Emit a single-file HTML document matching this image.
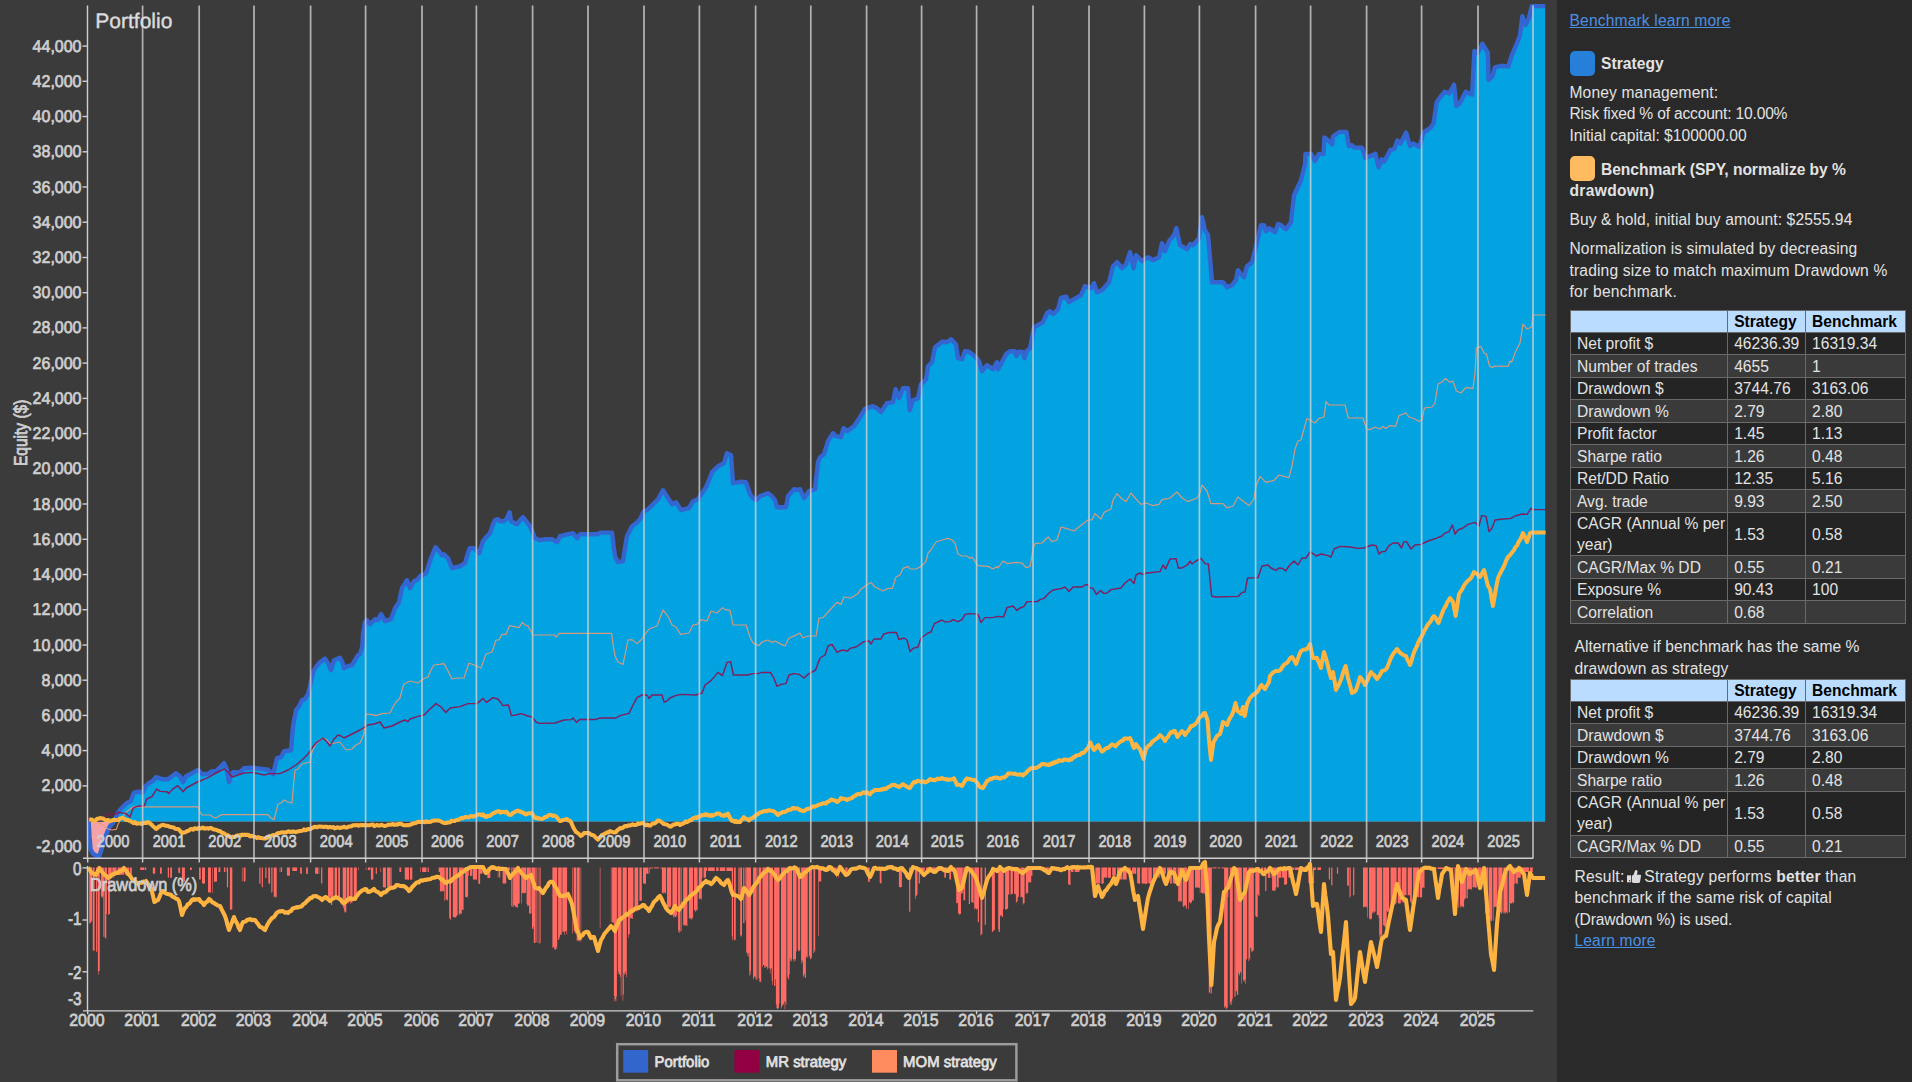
<!DOCTYPE html>
<html><head><meta charset="utf-8"><title>Portfolio</title><style>
html,body{margin:0;padding:0;background:#3b3b3b;}
body{width:1912px;height:1082px;overflow:hidden;position:relative;font-family:"Liberation Sans",sans-serif;}
#p{position:absolute;left:1557px;top:0;width:355px;height:1082px;background:#2a2a2a;color:#e2e2e2;font-size:15.6px;}
#p .l{position:absolute;white-space:nowrap;line-height:20px;height:20px;}
#p a{color:#4a90e2;text-decoration:underline;}
#p b{font-weight:bold;}
.sq{position:absolute;width:25.5px;height:25px;border-radius:5px;}
table.t{position:absolute;left:13px;border-collapse:collapse;table-layout:fixed;width:335.5px;font-size:15.6px;color:#e2e2e2;}
table.t td,table.t th{border:1px solid #6a6a6a;padding:0 0 0 6px;height:21.47px;line-height:21px;text-align:left;white-space:nowrap;overflow:hidden;}
table.t th{background:#b9dcff;color:#000;font-weight:bold;height:20.4px;}
table.t tr.o td{background:#242424;}
table.t tr.e td{background:#3a3a3a;}
table.t td.two{height:40px;line-height:21.35px;}
</style></head><body>
<svg width="1557" height="1082" viewBox="0 0 1557 1082" style="position:absolute;left:0;top:0" font-family="Liberation Sans, sans-serif" text-rendering="geometricPrecision">
<rect x="0" y="0" width="1557" height="1082" fill="#3b3b3b"/>
<defs><clipPath id="cpos"><rect x="0" y="0" width="1557" height="821.8"/></clipPath><clipPath id="cneg"><rect x="0" y="821.8" width="1557" height="60"/></clipPath>
<clipPath id="cmain"><rect x="87.0" y="0" width="1458.7" height="858.3"/></clipPath></defs>
<g clip-path="url(#cmain)">
<path d="M88.6 821.8 L88.6 821.2 L89.5 836.2 L90.6 849.2 L93.0 853.7 L96.0 855.7 L99.0 856.7 L101.0 851.2 L103.0 844.2 L105.0 837.7 L107.5 831.2 L110.0 826.2 L113.5 822.2 L116.0 817.2 L118.0 812.7 L120.5 809.2 L123.5 806.2 L126.5 803.2 L130.5 801.2 L132.5 796.2 L134.0 792.7 L138.5 791.7 L143.0 792.2 L145.5 786.2 L149.0 783.2 L153.0 780.7 L156.0 777.2 L162.0 779.2 L168.0 779.2 L172.0 776.2 L176.0 773.2 L180.0 776.2 L183.0 782.2 L186.0 776.2 L192.0 773.2 L198.0 769.8 L202.0 774.2 L208.0 773.8 L212.0 771.2 L216.0 771.2 L220.0 767.2 L224.0 763.2 L227.0 770.2 L229.0 782.2 L231.0 774.2 L233.0 772.2 L240.0 772.2 L244.0 768.2 L252.0 767.8 L260.0 768.6 L268.0 769.8 L273.0 774.2 L275.0 766.2 L277.0 758.2 L281.0 757.2 L284.0 751.2 L291.0 750.2 L293.0 726.2 L296.0 710.2 L299.0 706.2 L302.0 700.2 L305.0 699.2 L308.0 694.2 L310.0 686.2 L313.0 672.2 L316.0 667.2 L320.0 662.2 L325.0 658.6 L328.0 663.2 L331.0 670.2 L334.0 660.2 L340.0 657.8 L342.4 662.2 L344.0 668.2 L348.0 666.2 L352.0 665.2 L355.0 660.2 L358.0 655.2 L360.0 654.2 L362.4 646.2 L363.0 634.2 L365.0 622.2 L367.0 620.2 L370.0 624.2 L375.0 619.2 L378.0 620.2 L381.0 614.2 L385.0 621.2 L391.0 619.2 L395.0 608.2 L399.0 602.2 L402.0 588.2 L407.0 580.2 L410.0 588.2 L414.0 581.2 L417.0 580.2 L420.0 576.2 L426.0 573.2 L431.0 558.2 L435.6 547.2 L439.0 551.2 L442.0 555.2 L444.0 554.2 L448.0 558.2 L452.0 568.2 L460.0 566.2 L465.0 563.2 L467.6 554.2 L469.6 548.2 L474.0 548.2 L479.0 553.2 L483.0 541.2 L487.0 536.2 L490.0 533.2 L493.0 524.2 L495.0 520.2 L498.0 519.2 L500.0 521.2 L504.0 521.2 L507.0 518.2 L509.6 512.2 L511.0 521.2 L517.0 524.2 L520.0 520.2 L523.0 517.2 L530.0 526.2 L535.0 538.2 L540.0 540.2 L546.0 539.2 L552.0 539.2 L557.0 542.2 L560.0 536.2 L566.0 534.6 L573.0 533.2 L577.0 538.2 L580.0 534.2 L598.0 534.2 L600.0 532.6 L612.0 532.6 L613.6 546.2 L615.0 556.2 L618.0 562.2 L623.0 561.2 L625.0 548.2 L627.0 536.2 L632.0 526.2 L636.0 523.2 L640.0 519.2 L644.0 511.2 L648.0 509.2 L652.0 505.2 L658.0 499.2 L663.0 490.2 L668.0 498.2 L672.0 504.2 L676.0 502.2 L681.0 510.2 L689.0 508.2 L693.0 501.2 L698.0 499.2 L702.0 493.2 L706.0 487.2 L709.0 480.2 L712.0 472.2 L718.0 466.2 L724.0 463.2 L727.0 453.2 L731.0 455.2 L733.0 483.2 L740.0 481.8 L746.0 482.2 L750.0 494.2 L753.0 498.2 L756.0 500.2 L760.0 496.2 L768.0 493.2 L772.0 496.2 L775.0 500.2 L777.0 507.2 L786.0 507.2 L788.0 496.2 L794.0 489.2 L797.0 490.2 L800.0 489.2 L804.0 498.2 L809.0 491.2 L815.0 489.2 L818.0 462.2 L820.0 457.2 L824.0 454.2 L828.0 441.2 L833.0 433.2 L836.0 436.2 L841.0 437.2 L843.6 428.2 L847.0 431.2 L854.0 426.2 L860.0 417.2 L865.0 408.8 L873.0 406.2 L877.0 408.2 L881.0 412.2 L887.0 403.2 L893.0 402.2 L895.6 389.2 L899.0 398.2 L903.0 388.2 L908.0 388.2 L909.6 410.2 L913.0 400.2 L918.0 398.2 L921.0 384.2 L926.0 379.2 L928.0 366.2 L932.0 362.2 L935.0 347.2 L942.0 341.8 L947.0 342.2 L951.0 339.2 L956.0 344.6 L958.0 358.2 L962.0 359.2 L965.0 351.2 L969.0 351.8 L975.0 356.2 L979.0 361.2 L982.0 371.2 L987.0 365.2 L993.0 369.2 L997.0 362.2 L998.0 369.2 L1002.0 362.2 L1006.0 354.2 L1010.0 351.2 L1015.0 351.2 L1016.4 356.2 L1019.0 351.8 L1023.0 352.2 L1024.4 358.2 L1027.0 350.6 L1030.0 348.2 L1032.0 338.2 L1034.0 327.2 L1038.0 325.2 L1043.0 322.2 L1047.0 313.2 L1050.0 311.2 L1053.0 314.2 L1058.0 309.2 L1061.0 297.8 L1066.0 296.6 L1069.0 302.2 L1076.0 298.2 L1081.0 295.2 L1085.0 286.2 L1091.0 288.2 L1094.0 283.2 L1097.0 292.2 L1102.0 290.2 L1109.0 282.2 L1113.0 266.2 L1117.0 262.2 L1122.0 268.2 L1126.0 264.2 L1130.0 252.2 L1133.6 268.2 L1136.0 255.2 L1142.0 261.2 L1148.0 257.2 L1153.0 260.2 L1159.0 257.2 L1162.0 243.2 L1165.0 251.2 L1169.0 241.2 L1174.0 235.2 L1176.4 228.2 L1180.0 245.2 L1187.0 249.2 L1190.0 244.2 L1193.0 245.2 L1199.0 238.2 L1202.0 217.2 L1205.0 230.2 L1208.0 235.2 L1210.0 258.2 L1212.0 282.2 L1223.0 282.2 L1227.0 287.2 L1232.0 285.2 L1236.0 280.2 L1238.0 270.2 L1241.0 274.2 L1244.0 277.2 L1247.0 266.2 L1252.0 262.2 L1256.0 246.2 L1261.0 225.2 L1264.0 225.2 L1266.0 231.2 L1269.0 228.2 L1275.0 232.2 L1278.0 224.2 L1281.0 225.2 L1286.0 229.2 L1291.0 222.2 L1294.0 195.2 L1301.0 180.2 L1305.0 164.2 L1305.5 153.9 L1311.0 153.9 L1314.9 160.9 L1318.9 153.9 L1323.6 153.9 L1324.4 137.4 L1328.3 140.5 L1332.2 144.4 L1333.0 136.6 L1339.3 131.9 L1346.4 131.9 L1348.7 146.0 L1351.9 145.2 L1354.2 147.6 L1362.1 147.6 L1365.2 157.8 L1369.9 156.2 L1375.4 153.9 L1378.6 167.2 L1381.7 159.4 L1384.1 161.7 L1390.4 149.9 L1394.3 149.1 L1397.4 140.5 L1400.6 143.6 L1406.1 132.6 L1410.0 146.0 L1413.2 143.6 L1419.4 146.8 L1423.4 132.6 L1430.4 127.9 L1433.6 123.2 L1436.7 102.0 L1440.7 96.5 L1444.6 91.8 L1449.3 93.4 L1454.0 84.7 L1456.4 105.9 L1459.5 103.6 L1465.8 91.8 L1472.1 94.9 L1474.4 50.9 L1477.6 53.3 L1482.3 43.8 L1487.8 52.5 L1488.6 80.0 L1492.5 76.1 L1494.9 67.4 L1501.2 65.8 L1508.2 66.6 L1511.4 56.4 L1517.7 41.5 L1520.0 35.2 L1522.4 16.3 L1525.5 25.0 L1528.7 18.7 L1531.8 6.1 L1545.2 6.1 L1545.2 6.1 L1545.2 821.8 Z" fill="#03a3e1" clip-path="url(#cpos)"/>
<path d="M88.6 821.8 L88.6 821.2 L89.5 836.2 L90.6 849.2 L93.0 853.7 L96.0 855.7 L99.0 856.7 L101.0 851.2 L103.0 844.2 L105.0 837.7 L107.5 831.2 L110.0 826.2 L113.5 822.2 L116.0 817.2 L118.0 812.7 L120.5 809.2 L123.5 806.2 L126.5 803.2 L130.5 801.2 L132.5 796.2 L134.0 792.7 L138.5 791.7 L143.0 792.2 L145.5 786.2 L149.0 783.2 L153.0 780.7 L156.0 777.2 L162.0 779.2 L168.0 779.2 L172.0 776.2 L176.0 773.2 L180.0 776.2 L183.0 782.2 L186.0 776.2 L192.0 773.2 L198.0 769.8 L202.0 774.2 L208.0 773.8 L212.0 771.2 L216.0 771.2 L220.0 767.2 L224.0 763.2 L227.0 770.2 L229.0 782.2 L231.0 774.2 L233.0 772.2 L240.0 772.2 L244.0 768.2 L252.0 767.8 L260.0 768.6 L268.0 769.8 L273.0 774.2 L275.0 766.2 L277.0 758.2 L281.0 757.2 L284.0 751.2 L291.0 750.2 L293.0 726.2 L296.0 710.2 L299.0 706.2 L302.0 700.2 L305.0 699.2 L308.0 694.2 L310.0 686.2 L313.0 672.2 L316.0 667.2 L320.0 662.2 L325.0 658.6 L328.0 663.2 L331.0 670.2 L334.0 660.2 L340.0 657.8 L342.4 662.2 L344.0 668.2 L348.0 666.2 L352.0 665.2 L355.0 660.2 L358.0 655.2 L360.0 654.2 L362.4 646.2 L363.0 634.2 L365.0 622.2 L367.0 620.2 L370.0 624.2 L375.0 619.2 L378.0 620.2 L381.0 614.2 L385.0 621.2 L391.0 619.2 L395.0 608.2 L399.0 602.2 L402.0 588.2 L407.0 580.2 L410.0 588.2 L414.0 581.2 L417.0 580.2 L420.0 576.2 L426.0 573.2 L431.0 558.2 L435.6 547.2 L439.0 551.2 L442.0 555.2 L444.0 554.2 L448.0 558.2 L452.0 568.2 L460.0 566.2 L465.0 563.2 L467.6 554.2 L469.6 548.2 L474.0 548.2 L479.0 553.2 L483.0 541.2 L487.0 536.2 L490.0 533.2 L493.0 524.2 L495.0 520.2 L498.0 519.2 L500.0 521.2 L504.0 521.2 L507.0 518.2 L509.6 512.2 L511.0 521.2 L517.0 524.2 L520.0 520.2 L523.0 517.2 L530.0 526.2 L535.0 538.2 L540.0 540.2 L546.0 539.2 L552.0 539.2 L557.0 542.2 L560.0 536.2 L566.0 534.6 L573.0 533.2 L577.0 538.2 L580.0 534.2 L598.0 534.2 L600.0 532.6 L612.0 532.6 L613.6 546.2 L615.0 556.2 L618.0 562.2 L623.0 561.2 L625.0 548.2 L627.0 536.2 L632.0 526.2 L636.0 523.2 L640.0 519.2 L644.0 511.2 L648.0 509.2 L652.0 505.2 L658.0 499.2 L663.0 490.2 L668.0 498.2 L672.0 504.2 L676.0 502.2 L681.0 510.2 L689.0 508.2 L693.0 501.2 L698.0 499.2 L702.0 493.2 L706.0 487.2 L709.0 480.2 L712.0 472.2 L718.0 466.2 L724.0 463.2 L727.0 453.2 L731.0 455.2 L733.0 483.2 L740.0 481.8 L746.0 482.2 L750.0 494.2 L753.0 498.2 L756.0 500.2 L760.0 496.2 L768.0 493.2 L772.0 496.2 L775.0 500.2 L777.0 507.2 L786.0 507.2 L788.0 496.2 L794.0 489.2 L797.0 490.2 L800.0 489.2 L804.0 498.2 L809.0 491.2 L815.0 489.2 L818.0 462.2 L820.0 457.2 L824.0 454.2 L828.0 441.2 L833.0 433.2 L836.0 436.2 L841.0 437.2 L843.6 428.2 L847.0 431.2 L854.0 426.2 L860.0 417.2 L865.0 408.8 L873.0 406.2 L877.0 408.2 L881.0 412.2 L887.0 403.2 L893.0 402.2 L895.6 389.2 L899.0 398.2 L903.0 388.2 L908.0 388.2 L909.6 410.2 L913.0 400.2 L918.0 398.2 L921.0 384.2 L926.0 379.2 L928.0 366.2 L932.0 362.2 L935.0 347.2 L942.0 341.8 L947.0 342.2 L951.0 339.2 L956.0 344.6 L958.0 358.2 L962.0 359.2 L965.0 351.2 L969.0 351.8 L975.0 356.2 L979.0 361.2 L982.0 371.2 L987.0 365.2 L993.0 369.2 L997.0 362.2 L998.0 369.2 L1002.0 362.2 L1006.0 354.2 L1010.0 351.2 L1015.0 351.2 L1016.4 356.2 L1019.0 351.8 L1023.0 352.2 L1024.4 358.2 L1027.0 350.6 L1030.0 348.2 L1032.0 338.2 L1034.0 327.2 L1038.0 325.2 L1043.0 322.2 L1047.0 313.2 L1050.0 311.2 L1053.0 314.2 L1058.0 309.2 L1061.0 297.8 L1066.0 296.6 L1069.0 302.2 L1076.0 298.2 L1081.0 295.2 L1085.0 286.2 L1091.0 288.2 L1094.0 283.2 L1097.0 292.2 L1102.0 290.2 L1109.0 282.2 L1113.0 266.2 L1117.0 262.2 L1122.0 268.2 L1126.0 264.2 L1130.0 252.2 L1133.6 268.2 L1136.0 255.2 L1142.0 261.2 L1148.0 257.2 L1153.0 260.2 L1159.0 257.2 L1162.0 243.2 L1165.0 251.2 L1169.0 241.2 L1174.0 235.2 L1176.4 228.2 L1180.0 245.2 L1187.0 249.2 L1190.0 244.2 L1193.0 245.2 L1199.0 238.2 L1202.0 217.2 L1205.0 230.2 L1208.0 235.2 L1210.0 258.2 L1212.0 282.2 L1223.0 282.2 L1227.0 287.2 L1232.0 285.2 L1236.0 280.2 L1238.0 270.2 L1241.0 274.2 L1244.0 277.2 L1247.0 266.2 L1252.0 262.2 L1256.0 246.2 L1261.0 225.2 L1264.0 225.2 L1266.0 231.2 L1269.0 228.2 L1275.0 232.2 L1278.0 224.2 L1281.0 225.2 L1286.0 229.2 L1291.0 222.2 L1294.0 195.2 L1301.0 180.2 L1305.0 164.2 L1305.5 153.9 L1311.0 153.9 L1314.9 160.9 L1318.9 153.9 L1323.6 153.9 L1324.4 137.4 L1328.3 140.5 L1332.2 144.4 L1333.0 136.6 L1339.3 131.9 L1346.4 131.9 L1348.7 146.0 L1351.9 145.2 L1354.2 147.6 L1362.1 147.6 L1365.2 157.8 L1369.9 156.2 L1375.4 153.9 L1378.6 167.2 L1381.7 159.4 L1384.1 161.7 L1390.4 149.9 L1394.3 149.1 L1397.4 140.5 L1400.6 143.6 L1406.1 132.6 L1410.0 146.0 L1413.2 143.6 L1419.4 146.8 L1423.4 132.6 L1430.4 127.9 L1433.6 123.2 L1436.7 102.0 L1440.7 96.5 L1444.6 91.8 L1449.3 93.4 L1454.0 84.7 L1456.4 105.9 L1459.5 103.6 L1465.8 91.8 L1472.1 94.9 L1474.4 50.9 L1477.6 53.3 L1482.3 43.8 L1487.8 52.5 L1488.6 80.0 L1492.5 76.1 L1494.9 67.4 L1501.2 65.8 L1508.2 66.6 L1511.4 56.4 L1517.7 41.5 L1520.0 35.2 L1522.4 16.3 L1525.5 25.0 L1528.7 18.7 L1531.8 6.1 L1545.2 6.1 L1545.2 6.1 L1545.2 821.8 Z" fill="#f3a3a8" clip-path="url(#cneg)"/>
<path d="M88.6 821.2 L89.5 836.2 L90.6 849.2 L93.0 853.7 L96.0 855.7 L99.0 856.7 L101.0 851.2 L103.0 844.2 L105.0 837.7 L107.5 831.2 L110.0 826.2 L113.5 822.2 L116.0 817.2 L118.0 812.7 L120.5 809.2 L123.5 806.2 L126.5 803.2 L130.5 801.2 L132.5 796.2 L134.0 792.7 L138.5 791.7 L143.0 792.2 L145.5 786.2 L149.0 783.2 L153.0 780.7 L156.0 777.2 L162.0 779.2 L168.0 779.2 L172.0 776.2 L176.0 773.2 L180.0 776.2 L183.0 782.2 L186.0 776.2 L192.0 773.2 L198.0 769.8 L202.0 774.2 L208.0 773.8 L212.0 771.2 L216.0 771.2 L220.0 767.2 L224.0 763.2 L227.0 770.2 L229.0 782.2 L231.0 774.2 L233.0 772.2 L240.0 772.2 L244.0 768.2 L252.0 767.8 L260.0 768.6 L268.0 769.8 L273.0 774.2 L275.0 766.2 L277.0 758.2 L281.0 757.2 L284.0 751.2 L291.0 750.2 L293.0 726.2 L296.0 710.2 L299.0 706.2 L302.0 700.2 L305.0 699.2 L308.0 694.2 L310.0 686.2 L313.0 672.2 L316.0 667.2 L320.0 662.2 L325.0 658.6 L328.0 663.2 L331.0 670.2 L334.0 660.2 L340.0 657.8 L342.4 662.2 L344.0 668.2 L348.0 666.2 L352.0 665.2 L355.0 660.2 L358.0 655.2 L360.0 654.2 L362.4 646.2 L363.0 634.2 L365.0 622.2 L367.0 620.2 L370.0 624.2 L375.0 619.2 L378.0 620.2 L381.0 614.2 L385.0 621.2 L391.0 619.2 L395.0 608.2 L399.0 602.2 L402.0 588.2 L407.0 580.2 L410.0 588.2 L414.0 581.2 L417.0 580.2 L420.0 576.2 L426.0 573.2 L431.0 558.2 L435.6 547.2 L439.0 551.2 L442.0 555.2 L444.0 554.2 L448.0 558.2 L452.0 568.2 L460.0 566.2 L465.0 563.2 L467.6 554.2 L469.6 548.2 L474.0 548.2 L479.0 553.2 L483.0 541.2 L487.0 536.2 L490.0 533.2 L493.0 524.2 L495.0 520.2 L498.0 519.2 L500.0 521.2 L504.0 521.2 L507.0 518.2 L509.6 512.2 L511.0 521.2 L517.0 524.2 L520.0 520.2 L523.0 517.2 L530.0 526.2 L535.0 538.2 L540.0 540.2 L546.0 539.2 L552.0 539.2 L557.0 542.2 L560.0 536.2 L566.0 534.6 L573.0 533.2 L577.0 538.2 L580.0 534.2 L598.0 534.2 L600.0 532.6 L612.0 532.6 L613.6 546.2 L615.0 556.2 L618.0 562.2 L623.0 561.2 L625.0 548.2 L627.0 536.2 L632.0 526.2 L636.0 523.2 L640.0 519.2 L644.0 511.2 L648.0 509.2 L652.0 505.2 L658.0 499.2 L663.0 490.2 L668.0 498.2 L672.0 504.2 L676.0 502.2 L681.0 510.2 L689.0 508.2 L693.0 501.2 L698.0 499.2 L702.0 493.2 L706.0 487.2 L709.0 480.2 L712.0 472.2 L718.0 466.2 L724.0 463.2 L727.0 453.2 L731.0 455.2 L733.0 483.2 L740.0 481.8 L746.0 482.2 L750.0 494.2 L753.0 498.2 L756.0 500.2 L760.0 496.2 L768.0 493.2 L772.0 496.2 L775.0 500.2 L777.0 507.2 L786.0 507.2 L788.0 496.2 L794.0 489.2 L797.0 490.2 L800.0 489.2 L804.0 498.2 L809.0 491.2 L815.0 489.2 L818.0 462.2 L820.0 457.2 L824.0 454.2 L828.0 441.2 L833.0 433.2 L836.0 436.2 L841.0 437.2 L843.6 428.2 L847.0 431.2 L854.0 426.2 L860.0 417.2 L865.0 408.8 L873.0 406.2 L877.0 408.2 L881.0 412.2 L887.0 403.2 L893.0 402.2 L895.6 389.2 L899.0 398.2 L903.0 388.2 L908.0 388.2 L909.6 410.2 L913.0 400.2 L918.0 398.2 L921.0 384.2 L926.0 379.2 L928.0 366.2 L932.0 362.2 L935.0 347.2 L942.0 341.8 L947.0 342.2 L951.0 339.2 L956.0 344.6 L958.0 358.2 L962.0 359.2 L965.0 351.2 L969.0 351.8 L975.0 356.2 L979.0 361.2 L982.0 371.2 L987.0 365.2 L993.0 369.2 L997.0 362.2 L998.0 369.2 L1002.0 362.2 L1006.0 354.2 L1010.0 351.2 L1015.0 351.2 L1016.4 356.2 L1019.0 351.8 L1023.0 352.2 L1024.4 358.2 L1027.0 350.6 L1030.0 348.2 L1032.0 338.2 L1034.0 327.2 L1038.0 325.2 L1043.0 322.2 L1047.0 313.2 L1050.0 311.2 L1053.0 314.2 L1058.0 309.2 L1061.0 297.8 L1066.0 296.6 L1069.0 302.2 L1076.0 298.2 L1081.0 295.2 L1085.0 286.2 L1091.0 288.2 L1094.0 283.2 L1097.0 292.2 L1102.0 290.2 L1109.0 282.2 L1113.0 266.2 L1117.0 262.2 L1122.0 268.2 L1126.0 264.2 L1130.0 252.2 L1133.6 268.2 L1136.0 255.2 L1142.0 261.2 L1148.0 257.2 L1153.0 260.2 L1159.0 257.2 L1162.0 243.2 L1165.0 251.2 L1169.0 241.2 L1174.0 235.2 L1176.4 228.2 L1180.0 245.2 L1187.0 249.2 L1190.0 244.2 L1193.0 245.2 L1199.0 238.2 L1202.0 217.2 L1205.0 230.2 L1208.0 235.2 L1210.0 258.2 L1212.0 282.2 L1223.0 282.2 L1227.0 287.2 L1232.0 285.2 L1236.0 280.2 L1238.0 270.2 L1241.0 274.2 L1244.0 277.2 L1247.0 266.2 L1252.0 262.2 L1256.0 246.2 L1261.0 225.2 L1264.0 225.2 L1266.0 231.2 L1269.0 228.2 L1275.0 232.2 L1278.0 224.2 L1281.0 225.2 L1286.0 229.2 L1291.0 222.2 L1294.0 195.2 L1301.0 180.2 L1305.0 164.2 L1305.5 153.9 L1311.0 153.9 L1314.9 160.9 L1318.9 153.9 L1323.6 153.9 L1324.4 137.4 L1328.3 140.5 L1332.2 144.4 L1333.0 136.6 L1339.3 131.9 L1346.4 131.9 L1348.7 146.0 L1351.9 145.2 L1354.2 147.6 L1362.1 147.6 L1365.2 157.8 L1369.9 156.2 L1375.4 153.9 L1378.6 167.2 L1381.7 159.4 L1384.1 161.7 L1390.4 149.9 L1394.3 149.1 L1397.4 140.5 L1400.6 143.6 L1406.1 132.6 L1410.0 146.0 L1413.2 143.6 L1419.4 146.8 L1423.4 132.6 L1430.4 127.9 L1433.6 123.2 L1436.7 102.0 L1440.7 96.5 L1444.6 91.8 L1449.3 93.4 L1454.0 84.7 L1456.4 105.9 L1459.5 103.6 L1465.8 91.8 L1472.1 94.9 L1474.4 50.9 L1477.6 53.3 L1482.3 43.8 L1487.8 52.5 L1488.6 80.0 L1492.5 76.1 L1494.9 67.4 L1501.2 65.8 L1508.2 66.6 L1511.4 56.4 L1517.7 41.5 L1520.0 35.2 L1522.4 16.3 L1525.5 25.0 L1528.7 18.7 L1531.8 6.1 L1545.2 6.1" fill="none" stroke="#3366d0" stroke-width="4.4" stroke-linejoin="round" stroke-linecap="butt"/>
</g>
<path d="M88.5 819.0 L95.0 821.0 L103.0 825.0 L108.0 829.0 L111.8 830.0 L116.4 829.3 L117.9 824.7 L121.0 819.0 L124.7 813.4 L128.5 810.3 L133.1 806.9 L198.0 806.8 L200.0 812.0 L200.0 812.0 L202.0 815.0 L210.0 815.0 L213.0 817.0 L216.0 818.0 L219.0 816.0 L222.0 814.6 L268.0 814.6 L271.0 818.0 L274.0 819.6 L276.0 812.0 L278.0 804.0 L281.0 803.0 L284.0 800.0 L288.0 802.0 L292.0 803.0 L293.6 784.0 L295.0 770.0 L298.0 769.0 L302.0 764.0 L310.0 762.0 L312.0 752.0 L316.0 744.0 L320.0 740.0 L323.0 738.0 L327.0 740.0 L330.0 744.0 L335.0 743.0 L340.0 742.0 L343.0 746.0 L346.0 750.0 L352.0 749.0 L356.0 745.0 L360.0 743.0 L364.0 734.0 L365.0 724.0 L366.0 714.0 L371.0 714.4 L376.0 715.6 L382.0 713.6 L390.0 713.0 L393.0 707.0 L396.0 702.0 L400.0 698.0 L402.0 690.0 L404.0 684.0 L410.0 681.0 L418.0 683.0 L423.0 679.0 L428.0 677.0 L431.0 670.0 L434.0 665.0 L439.0 664.4 L444.0 663.6 L448.0 671.0 L452.0 679.0 L457.0 678.0 L464.0 678.0 L469.0 663.0 L474.0 665.0 L481.0 668.0 L486.0 654.0 L492.0 652.0 L496.0 640.0 L499.0 640.0 L502.0 634.4 L506.0 634.4 L509.6 625.6 L519.0 627.6 L522.4 622.4 L525.0 625.0 L528.0 626.0 L533.0 635.0 L554.0 635.0 L556.6 637.0 L559.0 633.4 L611.6 633.4 L613.0 644.0 L615.0 656.0 L618.0 662.0 L623.0 664.4 L625.6 652.0 L628.0 640.0 L632.0 639.6 L637.0 643.6 L641.0 640.0 L645.0 634.4 L649.0 629.0 L657.0 626.0 L660.0 618.0 L663.0 610.0 L666.0 613.6 L669.0 618.0 L672.0 625.0 L676.0 627.0 L680.6 634.4 L689.0 633.0 L693.0 625.0 L697.0 624.4 L701.0 619.6 L707.0 621.0 L711.0 611.0 L717.0 613.0 L722.6 607.6 L725.0 609.6 L730.0 610.4 L733.0 625.0 L746.0 625.0 L750.0 637.0 L753.0 643.0 L759.0 645.6 L762.0 642.0 L768.0 640.0 L772.0 642.4 L775.0 641.0 L780.0 643.6 L785.0 646.0 L789.0 638.0 L795.0 635.6 L800.0 633.0 L800.0 633.0 L803.0 638.0 L808.0 636.0 L816.0 636.0 L819.0 618.0 L823.0 617.6 L830.0 610.0 L837.0 602.4 L841.0 604.4 L844.0 597.0 L851.0 598.0 L858.0 593.6 L860.0 590.0 L866.0 585.6 L871.0 582.4 L875.0 587.0 L883.0 591.0 L888.0 588.4 L892.4 588.4 L896.0 577.0 L900.0 575.0 L903.0 568.4 L908.0 566.4 L910.0 569.0 L916.0 569.0 L921.0 566.4 L926.0 561.6 L928.0 553.0 L931.0 550.0 L936.0 542.0 L942.0 540.0 L948.0 538.4 L952.0 540.0 L955.0 543.0 L958.0 554.0 L962.0 556.0 L967.0 556.0 L970.0 558.4 L972.0 557.0 L978.0 565.6 L988.0 566.4 L993.0 569.0 L997.0 566.4 L998.0 568.0 L1003.0 561.0 L1007.0 563.6 L1016.0 562.4 L1022.0 563.0 L1026.0 567.6 L1030.0 566.4 L1031.6 558.0 L1033.0 549.0 L1035.0 543.6 L1042.0 543.0 L1048.0 537.0 L1052.0 541.6 L1057.0 540.0 L1061.0 527.0 L1066.0 528.4 L1074.0 531.0 L1080.0 526.0 L1088.0 520.0 L1092.0 520.0 L1095.0 513.6 L1101.0 519.0 L1104.0 512.4 L1111.0 509.0 L1113.0 500.0 L1117.0 493.6 L1122.0 499.0 L1126.0 501.6 L1131.0 493.0 L1136.0 499.0 L1141.0 504.4 L1146.0 503.0 L1153.0 505.6 L1159.0 504.4 L1162.0 499.6 L1169.0 498.4 L1170.0 498.0 L1177.0 492.0 L1182.0 498.0 L1188.0 501.6 L1197.0 498.0 L1200.0 493.0 L1202.0 485.0 L1207.0 491.0 L1211.0 503.6 L1223.0 503.6 L1227.0 508.0 L1233.0 506.0 L1238.0 497.0 L1241.0 499.6 L1249.0 505.6 L1254.0 499.0 L1256.0 486.0 L1260.0 476.4 L1266.0 482.4 L1274.0 480.4 L1279.0 475.0 L1289.0 477.6 L1292.0 466.0 L1295.0 449.0 L1298.0 441.0 L1301.0 440.0 L1304.0 429.0 L1307.0 418.4 L1315.0 423.0 L1319.0 418.4 L1324.0 417.0 L1326.0 401.6 L1329.0 405.0 L1345.0 405.0 L1348.4 418.0 L1363.0 418.0 L1366.4 429.0 L1370.0 429.6 L1375.0 427.0 L1380.0 429.0 L1383.0 426.4 L1385.6 428.4 L1390.0 425.6 L1395.6 426.4 L1399.0 415.6 L1406.0 413.0 L1409.0 417.0 L1415.0 419.0 L1419.0 421.6 L1422.0 419.6 L1424.4 408.0 L1432.0 407.0 L1435.0 403.0 L1438.0 384.0 L1442.0 382.0 L1445.6 378.4 L1449.6 382.4 L1453.0 381.0 L1456.4 391.0 L1461.0 393.0 L1466.0 387.6 L1473.0 388.4 L1475.0 373.0 L1476.4 348.0 L1481.0 346.4 L1484.0 353.0 L1486.4 354.0 L1489.6 366.0 L1492.0 367.6 L1495.0 366.0 L1508.0 366.4 L1510.0 361.0 L1511.6 362.4 L1515.0 353.0 L1520.0 343.0 L1523.0 324.0 L1527.0 329.0 L1531.6 327.0 L1533.0 315.0 L1545.6 315.0" fill="none" stroke="#f2976e" stroke-width="1.2" stroke-linejoin="round" opacity="0.88"/>
<path d="M88.5 819.0 L96.0 820.0 L104.0 819.5 L105.0 817.1 L106.5 814.1 L116.4 814.1 L117.9 812.2 L125.5 813.4 L130.0 817.1 L133.1 808.1 L137.6 806.2 L144.4 805.8 L146.7 799.0 L152.0 796.7 L156.6 789.1 L160.4 791.4 L167.2 791.8 L168.7 793.6 L171.7 789.9 L177.8 785.7 L183.1 791.8 L186.1 788.0 L198.3 781.5 L200.0 781.0 L208.0 777.6 L216.0 773.0 L224.0 769.0 L228.0 772.0 L232.0 777.0 L238.0 775.0 L244.0 773.0 L252.0 772.4 L260.0 774.0 L264.0 775.0 L270.0 773.6 L280.0 773.6 L288.0 770.0 L296.0 765.0 L302.0 760.0 L308.0 754.0 L312.0 748.0 L316.0 743.0 L323.0 738.0 L327.0 742.0 L330.0 746.0 L334.0 739.0 L338.0 735.0 L341.0 736.0 L344.0 738.0 L352.0 734.0 L360.0 730.0 L368.0 725.0 L374.0 724.0 L380.0 722.0 L384.0 728.0 L392.0 726.0 L400.0 722.0 L405.0 720.0 L408.0 721.6 L410.0 719.0 L418.0 716.4 L424.0 715.0 L430.0 709.0 L436.0 703.6 L441.0 707.0 L446.0 712.4 L450.0 708.0 L460.0 706.6 L468.0 703.6 L477.0 703.6 L483.0 698.4 L486.4 702.4 L493.0 697.6 L498.0 699.0 L503.0 705.6 L508.4 705.0 L511.4 715.6 L516.0 715.0 L521.0 713.6 L528.0 716.0 L532.0 717.0 L536.0 722.0 L539.0 723.4 L555.0 723.0 L564.0 720.0 L571.0 719.6 L573.0 718.0 L576.4 722.4 L580.0 719.4 L596.0 719.4 L600.0 718.0 L616.0 718.0 L620.0 715.6 L629.0 713.4 L633.0 705.0 L637.0 697.6 L642.0 695.0 L647.0 695.0 L649.0 698.4 L652.0 695.0 L662.0 695.0 L664.0 702.0 L667.0 701.0 L670.0 698.0 L676.0 695.4 L682.0 694.4 L696.0 695.0 L702.0 693.0 L705.0 685.0 L711.0 680.6 L718.0 672.4 L722.4 675.6 L727.0 662.4 L730.6 661.6 L733.4 675.0 L748.0 675.0 L752.0 673.6 L758.0 673.6 L762.0 672.4 L770.4 672.4 L774.0 678.4 L777.0 686.4 L781.0 684.4 L786.0 683.6 L789.0 675.0 L794.0 673.6 L799.0 674.4 L800.0 675.0 L804.0 678.0 L808.0 674.4 L815.6 670.0 L820.0 658.0 L825.0 655.0 L828.0 646.0 L832.0 644.4 L837.0 652.4 L842.0 650.0 L847.6 651.0 L850.0 648.4 L856.0 647.0 L864.0 641.6 L869.0 641.0 L871.0 644.0 L874.0 639.0 L881.0 639.0 L883.6 634.0 L890.0 632.4 L896.4 632.4 L899.0 639.6 L904.0 638.0 L907.0 640.0 L910.0 651.6 L913.0 648.4 L918.0 647.0 L921.0 638.0 L928.0 633.0 L931.0 632.0 L934.4 623.6 L942.0 620.0 L945.0 622.0 L950.0 621.6 L953.0 619.6 L958.0 621.6 L962.0 619.6 L965.0 614.4 L970.0 613.6 L978.0 614.4 L981.0 622.4 L985.0 617.6 L993.0 617.6 L997.0 616.4 L1003.6 617.0 L1007.0 607.6 L1013.0 606.0 L1017.0 610.4 L1020.0 608.0 L1024.0 606.4 L1027.0 601.6 L1037.0 601.6 L1040.0 599.6 L1044.0 598.4 L1049.0 593.0 L1053.0 590.0 L1062.0 588.4 L1065.0 587.0 L1069.0 591.6 L1073.0 587.0 L1082.0 587.0 L1085.0 585.0 L1088.0 584.4 L1089.0 587.6 L1093.0 588.4 L1096.4 594.4 L1100.4 590.4 L1104.0 593.6 L1107.0 593.0 L1111.0 589.6 L1121.0 588.0 L1125.0 583.0 L1130.0 579.0 L1134.0 583.6 L1136.0 575.0 L1140.0 573.0 L1143.0 574.4 L1147.0 573.0 L1160.0 571.6 L1163.0 565.0 L1165.6 569.0 L1169.6 559.6 L1170.0 559.0 L1176.0 558.6 L1178.4 568.0 L1182.0 568.0 L1188.0 564.4 L1190.0 561.0 L1192.0 564.0 L1196.0 561.0 L1201.0 558.4 L1205.0 563.6 L1208.4 564.0 L1211.6 596.0 L1215.0 597.0 L1238.0 596.4 L1242.0 592.4 L1245.0 592.0 L1247.6 578.0 L1258.0 577.6 L1262.0 566.0 L1268.0 565.0 L1271.0 568.0 L1276.0 570.4 L1279.0 568.0 L1282.4 568.4 L1285.6 571.0 L1289.0 566.0 L1294.0 561.0 L1298.0 565.0 L1302.0 558.0 L1306.0 558.0 L1310.0 552.0 L1313.0 553.6 L1316.0 556.0 L1321.0 554.0 L1328.0 555.6 L1331.0 557.0 L1334.0 549.0 L1340.0 546.4 L1350.0 547.0 L1358.0 548.4 L1364.0 548.0 L1372.0 545.0 L1376.0 545.6 L1379.0 554.0 L1382.0 551.6 L1385.0 551.6 L1389.0 545.6 L1393.0 543.0 L1398.0 543.0 L1401.6 548.0 L1403.6 542.0 L1406.4 541.6 L1411.0 549.0 L1415.0 545.0 L1421.0 544.4 L1428.0 541.0 L1436.0 538.4 L1442.0 536.0 L1444.0 533.6 L1449.0 531.6 L1452.4 525.0 L1455.0 534.0 L1458.0 530.0 L1463.0 528.0 L1468.0 524.4 L1475.0 522.4 L1479.0 526.0 L1481.6 515.6 L1486.0 516.4 L1489.0 531.6 L1492.0 528.0 L1495.0 520.0 L1503.0 519.0 L1511.0 518.4 L1515.0 516.0 L1522.0 514.0 L1527.0 514.4 L1531.0 508.4 L1533.0 509.6 L1545.6 509.6" fill="none" stroke="#8c1454" stroke-width="1.45" opacity="0.92" stroke-linejoin="round"/>
<path d="M89.2 819.2 L90.8 819.5 L92.4 819.8 L94.0 821.0 L95.5 820.5 L97.0 818.8 L98.5 818.8 L100.0 818.0 L101.7 818.5 L103.3 818.6 L105.0 820.0 L106.7 820.3 L108.3 819.9 L110.0 821.0 L111.4 820.7 L112.8 819.9 L114.2 819.7 L115.6 820.1 L117.0 820.0 L118.5 820.0 L120.0 818.4 L121.5 818.1 L123.0 818.0 L124.7 818.9 L126.3 820.0 L128.0 820.0 L129.3 820.8 L130.7 821.2 L132.0 822.0 L133.5 823.2 L135.0 822.1 L136.5 823.8 L138.0 823.6 L139.3 823.4 L140.7 823.3 L142.0 824.0 L143.5 822.9 L145.0 822.7 L146.5 823.0 L148.0 822.0 L149.3 822.5 L150.7 824.1 L152.0 825.0 L153.3 826.6 L154.7 827.5 L156.0 829.0 L157.3 828.2 L158.7 826.6 L160.0 826.4 L161.3 825.2 L162.7 825.0 L164.0 825.0 L165.4 825.7 L166.8 825.7 L168.2 825.9 L169.6 826.7 L171.0 827.0 L172.4 827.3 L173.8 827.5 L175.2 828.7 L176.6 828.9 L178.0 829.0 L179.3 829.9 L180.7 831.8 L182.0 833.0 L183.7 832.4 L185.3 832.3 L187.0 831.0 L188.7 830.7 L190.3 829.3 L192.0 829.0 L193.3 829.7 L194.7 828.2 L196.0 828.6 L197.3 829.0 L198.7 827.9 L200.0 828.4 L201.4 828.3 L202.9 827.5 L204.3 828.5 L205.7 828.6 L207.1 828.2 L208.6 828.7 L210.0 828.0 L211.4 828.1 L212.9 829.2 L214.3 829.4 L215.7 829.8 L217.1 830.1 L218.6 831.1 L220.0 831.0 L221.7 832.7 L223.3 833.0 L225.0 834.0 L226.7 835.3 L228.3 835.3 L230.0 837.0 L231.3 837.1 L232.7 836.8 L234.0 837.1 L235.3 836.6 L236.7 835.5 L238.0 835.6 L239.3 835.3 L240.7 835.7 L242.0 834.5 L243.3 835.1 L244.7 834.6 L246.0 835.0 L247.3 834.7 L248.7 835.0 L250.0 836.4 L251.3 835.7 L252.7 836.3 L254.0 837.0 L255.5 837.1 L257.0 838.1 L258.5 837.1 L260.0 838.0 L261.3 838.1 L262.7 838.3 L264.0 838.4 L265.3 838.5 L266.7 838.0 L268.0 837.6 L269.3 836.2 L270.7 835.9 L272.0 835.6 L273.3 834.9 L274.7 835.3 L276.0 835.0 L277.3 833.3 L278.7 832.9 L280.0 833.0 L281.4 832.4 L282.9 832.3 L284.3 832.5 L285.7 832.6 L287.1 831.9 L288.6 831.3 L290.0 832.0 L291.4 831.7 L292.9 831.5 L294.3 831.7 L295.7 832.2 L297.1 831.6 L298.6 831.2 L300.0 831.0 L301.3 830.9 L302.7 830.6 L304.0 829.3 L305.3 830.3 L306.7 829.8 L308.0 829.0 L309.3 829.3 L310.7 828.8 L312.0 827.8 L313.3 827.5 L314.7 826.7 L316.0 827.0 L317.3 827.3 L318.7 826.4 L320.0 826.5 L321.3 826.8 L322.7 826.8 L324.0 827.1 L325.3 826.8 L326.7 826.7 L328.0 827.6 L329.3 827.1 L330.7 827.1 L332.0 827.5 L333.3 827.0 L334.7 828.4 L336.0 828.0 L337.3 827.3 L338.7 827.6 L340.0 828.0 L341.4 827.5 L342.9 827.3 L344.3 826.7 L345.7 827.6 L347.1 827.6 L348.6 826.6 L350.0 826.4 L351.4 826.2 L352.9 825.3 L354.3 825.2 L355.7 825.3 L357.1 825.0 L358.6 825.7 L360.0 825.0 L370.0 825.2 L371.4 824.7 L372.9 824.6 L374.3 826.1 L375.7 825.5 L377.1 824.9 L378.6 825.6 L380.0 825.6 L381.4 824.7 L382.9 825.4 L384.3 826.0 L385.7 825.7 L387.1 825.3 L388.6 824.5 L390.0 824.8 L391.4 824.5 L392.9 824.0 L394.3 824.9 L395.7 824.4 L397.1 824.7 L398.6 823.8 L400.0 824.0 L401.3 823.7 L402.7 824.8 L404.0 825.3 L405.3 825.2 L406.7 825.3 L408.0 825.0 L409.3 825.2 L410.7 824.7 L412.0 823.6 L413.3 823.7 L414.7 823.1 L416.0 823.0 L417.3 822.0 L418.7 821.8 L420.0 821.9 L421.3 821.7 L422.7 822.1 L424.0 821.6 L425.3 822.2 L426.7 821.3 L428.0 822.0 L429.3 822.0 L430.7 821.8 L432.0 821.0 L433.3 820.8 L434.7 820.6 L436.0 820.6 L437.3 820.5 L438.7 820.5 L440.0 821.0 L441.5 821.7 L443.0 822.6 L444.5 823.0 L446.0 823.0 L447.4 822.5 L448.9 822.4 L450.3 822.2 L451.7 820.6 L453.1 821.1 L454.6 821.1 L456.0 820.0 L457.4 820.0 L458.9 819.5 L460.3 818.7 L461.7 817.8 L463.1 818.3 L464.6 817.2 L466.0 817.0 L467.4 817.3 L468.9 817.4 L470.3 816.2 L471.7 816.0 L473.1 816.7 L474.6 816.2 L476.0 815.6 L477.4 814.8 L478.8 814.5 L480.2 814.3 L481.6 815.3 L483.0 814.4 L484.5 816.2 L486.0 817.0 L487.4 815.7 L488.9 816.1 L490.3 815.6 L491.7 814.4 L493.1 813.2 L494.6 812.8 L496.0 812.0 L497.4 811.4 L498.9 811.1 L500.3 812.6 L501.7 812.0 L503.1 811.8 L504.6 812.4 L506.0 811.6 L507.3 812.6 L508.7 814.5 L510.0 815.0 L511.3 814.8 L512.7 813.1 L514.0 812.4 L515.3 811.7 L516.7 810.9 L518.0 810.6 L519.4 811.4 L520.8 811.6 L522.2 812.5 L523.6 812.7 L525.0 814.0 L526.4 814.5 L527.8 813.4 L529.2 813.3 L530.6 813.3 L532.0 813.0 L534.0 817.0 L535.3 818.0 L536.7 817.5 L538.0 818.7 L539.3 818.3 L540.7 818.7 L542.0 819.0 L543.5 818.4 L545.0 816.9 L546.5 816.9 L548.0 815.8 L549.5 814.9 L551.0 815.0 L552.7 815.9 L554.3 815.4 L556.0 816.4 L557.3 817.9 L558.7 819.8 L560.0 821.0 L561.4 820.7 L562.8 819.9 L564.2 819.8 L565.6 819.5 L567.0 819.0 L568.3 820.5 L569.7 820.4 L571.0 822.0 L572.3 825.1 L573.6 828.0 L576.0 832.0 L577.7 832.9 L579.3 834.3 L581.0 836.0 L582.5 834.9 L584.0 833.0 L585.7 833.0 L587.3 833.1 L589.0 833.0 L590.3 834.1 L591.7 835.0 L593.0 835.0 L594.7 836.4 L596.3 838.2 L598.0 839.6 L599.3 838.1 L600.7 836.6 L602.0 835.0 L603.3 834.6 L604.7 833.6 L606.0 833.1 L607.3 832.3 L608.7 832.4 L610.0 831.0 L611.5 831.6 L613.0 832.1 L614.5 832.5 L616.0 832.0 L617.3 830.3 L618.7 829.4 L620.0 828.0 L621.4 828.4 L622.9 827.9 L624.3 826.4 L625.7 826.0 L627.1 826.2 L628.6 825.3 L630.0 825.6 L631.3 824.9 L632.7 824.3 L634.0 825.0 L635.3 824.9 L636.7 824.8 L638.0 823.3 L639.3 823.9 L640.7 823.5 L642.0 823.0 L643.4 822.9 L644.8 824.7 L646.2 825.3 L647.6 824.6 L649.0 825.6 L650.4 825.6 L651.9 824.0 L653.3 823.4 L654.7 823.4 L656.1 822.4 L657.6 820.6 L659.0 820.4 L660.7 821.5 L662.3 822.8 L664.0 824.0 L665.4 824.3 L666.8 824.6 L668.2 825.3 L669.6 826.4 L671.0 826.6 L672.7 824.8 L674.3 824.7 L676.0 823.6 L677.3 824.0 L678.7 823.8 L680.0 825.0 L681.4 824.0 L682.9 823.8 L684.3 822.9 L685.7 821.4 L687.1 822.2 L688.6 821.2 L690.0 820.0 L691.4 820.2 L692.9 818.3 L694.3 818.1 L695.7 817.2 L697.1 817.9 L698.6 816.5 L700.0 816.4 L701.5 815.2 L703.0 815.1 L704.5 815.3 L706.0 814.0 L707.3 815.2 L708.7 814.9 L710.0 816.0 L711.4 815.0 L712.8 815.7 L714.2 814.7 L715.6 814.4 L717.0 813.6 L718.4 813.4 L719.8 813.9 L721.2 815.3 L722.6 815.4 L724.0 816.0 L725.3 814.5 L726.7 815.1 L728.0 813.6 L729.3 816.3 L730.7 819.0 L732.0 821.0 L733.3 820.5 L734.7 821.9 L736.0 820.8 L737.3 822.2 L738.7 821.8 L740.0 822.0 L741.3 820.1 L742.7 818.8 L744.0 817.0 L745.7 818.8 L747.3 818.9 L749.0 820.4 L750.7 818.7 L752.3 818.2 L754.0 817.0 L755.3 815.7 L756.7 814.7 L758.0 814.0 L759.3 812.9 L760.7 812.4 L762.0 812.0 L763.5 811.3 L765.0 810.9 L766.5 811.2 L768.0 810.4 L769.7 810.3 L771.3 810.8 L773.0 811.0 L774.7 811.8 L776.3 813.4 L778.0 815.0 L779.5 813.5 L781.0 813.1 L782.5 812.0 L784.0 812.0 L785.4 811.8 L786.9 810.9 L788.3 809.8 L789.7 809.7 L791.1 809.8 L792.6 807.9 L794.0 808.0 L795.3 808.7 L796.7 808.3 L798.0 808.6 L800.0 810.0 L801.5 810.5 L803.0 811.0 L804.5 810.9 L806.0 809.5 L807.5 809.0 L809.0 808.6 L810.5 808.4 L812.0 807.0 L813.3 806.3 L814.7 806.7 L816.0 806.0 L817.3 805.5 L818.7 804.7 L820.0 804.4 L821.5 804.0 L823.0 803.3 L824.5 803.2 L826.0 803.6 L827.7 801.6 L829.3 801.3 L831.0 799.6 L832.5 799.8 L834.0 800.3 L835.5 800.7 L837.0 802.0 L838.3 801.2 L839.7 799.9 L841.0 798.0 L842.5 798.8 L844.0 798.7 L845.5 799.1 L847.0 800.0 L848.7 799.0 L850.3 798.6 L852.0 798.0 L853.5 796.5 L855.0 795.9 L856.5 794.6 L858.0 794.0 L859.3 794.4 L860.7 794.1 L862.0 793.1 L863.3 792.3 L864.7 793.1 L866.0 792.0 L867.3 792.5 L868.7 793.4 L870.0 794.4 L871.7 792.1 L873.3 791.3 L875.0 790.0 L876.7 790.0 L878.3 790.0 L880.0 790.0 L881.5 789.3 L883.0 789.5 L884.5 788.5 L886.0 789.0 L887.4 787.8 L888.8 786.7 L890.2 786.4 L891.6 785.1 L893.0 785.0 L894.5 784.7 L896.0 785.7 L897.5 786.1 L899.0 787.0 L900.3 786.1 L901.7 785.0 L903.0 784.0 L904.4 785.2 L905.8 785.9 L907.2 786.7 L908.6 787.8 L910.0 788.0 L911.3 785.8 L912.7 783.7 L914.0 782.0 L915.7 782.4 L917.3 780.8 L919.0 781.0 L920.5 781.7 L922.0 781.9 L923.5 781.3 L925.0 782.4 L926.7 781.8 L928.3 780.8 L930.0 779.0 L931.3 779.5 L932.7 780.0 L934.0 780.0 L935.3 780.2 L936.7 778.8 L938.0 779.0 L939.3 778.7 L940.7 778.9 L942.0 778.0 L943.4 778.8 L944.8 779.2 L946.2 779.1 L947.6 779.9 L949.0 779.6 L950.7 779.5 L952.3 779.1 L954.0 778.4 L955.5 781.3 L957.0 785.0 L958.7 784.6 L960.3 785.1 L962.0 786.0 L963.7 783.2 L965.3 780.3 L967.0 778.4 L968.3 779.2 L969.7 779.0 L971.0 779.4 L972.3 779.7 L973.7 780.0 L975.0 780.0 L976.3 782.0 L977.7 783.2 L979.0 786.0 L980.3 787.1 L981.7 787.7 L983.0 788.0 L984.3 785.7 L985.7 783.4 L987.0 781.0 L988.5 780.5 L990.0 778.8 L991.5 779.1 L993.0 778.0 L994.5 777.7 L996.0 777.5 L997.5 777.9 L999.0 778.4 L1000.7 778.5 L1002.3 777.4 L1004.0 777.6 L1005.3 776.7 L1006.7 775.7 L1008.0 773.6 L1009.4 773.6 L1010.8 773.4 L1012.2 773.6 L1013.6 773.9 L1015.0 773.6 L1016.3 774.4 L1017.7 774.5 L1019.0 774.8 L1020.3 774.3 L1021.7 774.7 L1023.0 775.6 L1024.4 773.9 L1025.8 773.3 L1027.2 771.3 L1028.6 770.4 L1030.0 769.0 L1031.5 768.0 L1033.0 767.8 L1034.5 767.9 L1036.0 768.0 L1037.5 767.3 L1039.0 766.3 L1040.5 765.3 L1042.0 764.0 L1043.4 763.9 L1044.8 764.4 L1046.2 764.5 L1047.6 764.7 L1049.0 765.0 L1050.4 763.7 L1051.8 764.3 L1053.2 762.5 L1054.6 763.0 L1056.0 761.6 L1057.3 762.0 L1058.7 760.2 L1060.0 760.5 L1061.3 760.8 L1062.7 760.7 L1064.0 759.6 L1065.7 759.8 L1067.3 759.8 L1069.0 760.4 L1070.3 759.1 L1071.7 759.5 L1073.0 757.5 L1074.3 757.3 L1075.7 755.8 L1077.0 755.6 L1078.5 755.0 L1080.0 755.0 L1081.5 753.1 L1083.0 753.0 L1084.7 751.8 L1086.3 749.7 L1088.0 748.0 L1090.4 742.4 L1092.2 746.8 L1094.0 750.0 L1095.5 748.7 L1096.9 746.2 L1098.4 745.0 L1100.2 748.9 L1102.0 751.6 L1103.5 750.7 L1105.0 749.0 L1106.5 748.1 L1108.0 748.0 L1109.3 746.8 L1110.7 745.5 L1112.0 744.4 L1113.8 745.1 L1115.6 746.4 L1117.1 744.4 L1118.5 743.2 L1120.0 742.0 L1121.5 740.8 L1123.0 740.7 L1124.5 738.5 L1126.0 738.4 L1127.3 738.7 L1128.7 738.7 L1130.0 738.0 L1131.3 740.7 L1132.7 745.3 L1134.0 748.0 L1136.0 744.0 L1137.3 746.0 L1138.7 748.0 L1140.0 749.0 L1141.7 753.7 L1143.4 759.0 L1146.0 749.0 L1147.5 747.0 L1149.0 745.3 L1150.5 744.5 L1152.0 742.0 L1153.5 741.0 L1155.0 739.6 L1156.5 738.6 L1158.0 737.6 L1160.0 735.0 L1161.7 736.6 L1163.3 738.3 L1165.0 741.0 L1166.5 738.1 L1168.0 737.0 L1169.5 733.9 L1171.0 732.0 L1172.3 732.4 L1173.7 730.9 L1175.0 731.0 L1177.5 737.0 L1179.0 734.6 L1180.5 733.0 L1182.0 731.0 L1183.5 732.5 L1185.0 735.0 L1186.5 732.5 L1188.0 731.2 L1189.5 728.9 L1191.0 726.0 L1192.3 726.0 L1193.7 725.2 L1195.0 724.5 L1196.3 723.0 L1197.7 720.9 L1199.0 718.0 L1200.5 716.8 L1202.0 715.9 L1203.5 713.5 L1205.0 713.0 L1207.5 720.0 L1209.0 740.0 L1211.0 760.0 L1213.5 742.0 L1215.2 739.4 L1217.0 736.0 L1218.5 734.9 L1220.0 734.0 L1221.5 728.4 L1223.0 722.0 L1224.3 723.2 L1225.7 723.7 L1227.0 725.0 L1228.5 720.8 L1230.0 718.0 L1231.8 715.2 L1233.5 711.0 L1235.5 703.0 L1237.5 711.0 L1239.2 711.9 L1241.0 714.0 L1243.0 707.0 L1244.8 716.0 L1247.0 704.0 L1248.5 701.0 L1250.0 698.0 L1251.5 696.4 L1253.0 695.0 L1254.5 694.0 L1255.8 693.0 L1257.2 692.1 L1258.5 690.0 L1260.0 687.1 L1261.5 685.0 L1263.2 687.2 L1265.0 689.0 L1266.3 686.3 L1267.7 684.4 L1269.0 682.0 L1270.0 676.0 L1271.3 674.5 L1272.7 672.8 L1274.0 672.0 L1275.7 671.1 L1277.3 670.9 L1279.0 671.0 L1280.5 669.9 L1282.0 667.5 L1283.5 665.3 L1285.0 664.0 L1286.4 663.3 L1287.8 662.0 L1289.2 659.7 L1290.6 657.8 L1292.0 657.0 L1293.3 658.8 L1294.7 661.0 L1296.0 664.0 L1297.7 659.4 L1299.3 654.7 L1301.0 651.0 L1302.5 650.1 L1304.0 649.6 L1305.5 649.6 L1307.0 649.0 L1308.5 647.1 L1310.0 644.0 L1311.5 651.4 L1313.0 658.0 L1314.3 657.9 L1315.7 657.9 L1317.0 658.0 L1318.3 661.4 L1319.7 664.5 L1321.0 668.0 L1322.5 659.7 L1324.0 652.0 L1325.3 656.0 L1326.7 661.0 L1328.0 666.0 L1329.5 672.7 L1331.0 678.0 L1333.0 672.0 L1334.5 680.4 L1336.0 690.0 L1337.3 687.3 L1338.7 684.9 L1340.0 682.0 L1341.4 678.6 L1342.8 673.5 L1344.2 669.6 L1345.6 666.0 L1348.0 678.0 L1349.3 682.6 L1350.7 687.8 L1352.0 693.0 L1353.3 691.9 L1354.7 691.7 L1356.0 690.0 L1357.3 686.2 L1358.7 681.9 L1360.0 677.0 L1361.7 678.9 L1363.3 681.6 L1365.0 685.0 L1366.5 682.1 L1368.0 679.1 L1369.5 675.2 L1371.0 672.0 L1372.5 673.9 L1374.0 674.7 L1375.5 677.1 L1377.0 679.0 L1378.7 677.0 L1380.3 674.2 L1382.0 671.0 L1383.7 670.6 L1385.3 669.8 L1387.0 668.0 L1388.7 663.6 L1390.3 659.4 L1392.0 656.0 L1393.7 653.1 L1395.3 651.4 L1397.0 649.0 L1398.7 651.0 L1400.3 653.0 L1402.0 654.0 L1403.3 655.0 L1404.7 655.6 L1406.0 656.0 L1407.3 659.4 L1408.7 661.9 L1410.0 665.0 L1411.7 660.1 L1413.3 654.3 L1415.0 650.0 L1416.7 646.8 L1418.3 642.2 L1420.0 639.0 L1421.5 636.9 L1423.0 633.7 L1424.5 630.4 L1426.0 628.0 L1427.3 625.4 L1428.7 623.6 L1430.0 622.2 L1431.3 620.3 L1432.7 617.4 L1434.0 616.0 L1435.5 617.6 L1436.9 620.7 L1438.4 623.0 L1439.9 619.1 L1441.5 614.8 L1443.0 611.0 L1444.4 608.0 L1445.8 606.0 L1447.2 602.4 L1448.6 600.3 L1450.0 598.0 L1451.5 599.9 L1453.0 602.0 L1455.6 616.0 L1457.3 605.7 L1459.0 594.0 L1460.5 591.7 L1462.0 589.6 L1463.5 586.5 L1465.0 584.0 L1466.7 581.9 L1468.3 580.3 L1470.0 579.0 L1471.3 577.4 L1472.7 574.7 L1474.0 572.0 L1475.5 572.9 L1477.0 573.7 L1478.5 575.7 L1480.0 577.0 L1481.3 574.9 L1482.7 572.2 L1484.0 570.0 L1485.3 574.9 L1486.7 580.9 L1488.0 586.0 L1490.0 589.0 L1491.5 598.2 L1493.0 606.0 L1494.7 596.2 L1496.3 586.6 L1498.0 578.0 L1499.7 574.4 L1501.3 571.2 L1503.0 568.0 L1504.7 564.6 L1506.3 560.2 L1508.0 557.0 L1509.5 555.7 L1511.0 553.9 L1512.5 551.8 L1514.0 550.0 L1515.5 547.0 L1517.0 545.8 L1518.5 542.2 L1520.0 540.0 L1521.5 537.0 L1523.0 533.0 L1524.3 535.6 L1525.7 538.6 L1527.0 542.0 L1528.5 537.9 L1530.0 533.0 L1531.5 532.4 L1533.0 532.4 L1545.6 532.4" fill="none" stroke="#ffb340" stroke-width="4.0" stroke-linejoin="round" stroke-linecap="butt"/>
<g fill="#ff6b64">
<path d="M89.2 867.4V923.4H89.8V923.2H90.4V922.6H91.0V921.7H91.6V920.8H92.2V867.4Z"/>
<path d="M92.8 867.4V951.3H93.4V950.0H94.0V950.9H94.6V867.4Z"/>
<path d="M96.1 867.4V951.7H96.7V951.7H97.3V867.4Z"/>
<path d="M97.9 867.4V974.4H98.5V971.1H99.1V971.2H99.7V867.4Z"/>
<path d="M100.9 867.4V896.3H101.5V897.4H102.1V897.7H102.7V896.3H103.3V936.7H103.9V867.4Z"/>
<path d="M104.5 867.4V937.1H105.1V938.4H105.7V938.4H106.3V914.1H106.9V867.4Z"/>
<path d="M108.1 867.4V915.0H108.7V914.2H109.3V914.0H109.9V877.4H110.5V877.9H111.1V877.4H111.7V867.4Z"/>
<path d="M112.3 867.4V877.8H112.9V877.5H113.5V877.5H114.1V874.8H114.7V875.0H115.3V874.8H115.9V874.8H116.5V867.4Z"/>
<path d="M117.7 867.4V874.9H118.3V874.7H118.9V874.8H119.5V874.7H120.1V874.9H120.7V874.7H121.3V874.8H121.9V874.8H122.5V874.8H123.1V874.6H123.7V875.0H124.3V867.4Z"/>
<path d="M125.2 867.4V874.6H125.8V874.8H126.4V874.9H127.0V874.6H127.6V874.7H128.2V874.9H128.8V874.7H129.4V867.4Z"/>
<path d="M130.0 867.4V874.9H130.6V874.7H131.2V874.7H131.8V867.4Z"/>
<path d="M140.2 867.4V870.0H140.8V870.0H141.4V870.0H142.0V870.0H142.6V870.0H143.2V870.0H143.8V870.0H144.4V867.4Z"/>
<path d="M145.0 867.4V870.0H145.6V870.0H146.2V867.4Z"/>
<path d="M152.8 867.4V873.6H153.4V873.7H154.0V873.9H154.6V873.8H155.2V867.4Z"/>
<path d="M160.0 867.4V873.7H160.6V873.7H161.2V873.8H161.8V867.4Z"/>
<path d="M167.8 867.4V877.7H168.4V877.5H169.0V867.4Z"/>
<path d="M170.2 867.4V877.9H170.8V877.5H171.4V877.8H172.0V867.4Z"/>
<path d="M178.3 867.4V872.8H178.9V872.9H179.5V872.9H180.1V867.4Z"/>
<path d="M181.9 867.4V881.9H182.5V881.9H183.1V881.5H183.7V881.8H184.3V881.6H184.9V867.4Z"/>
<path d="M190.0 867.4V870.0H190.6V870.0H191.2V870.0H191.8V867.4Z"/>
<path d="M199.0 867.4V879.5H199.6V879.5H200.2V879.4H200.8V867.4Z"/>
<path d="M202.0 867.4V883.2H202.6V883.3H203.2V883.9H203.8V883.2H204.4V883.7H205.0V867.4Z"/>
<path d="M208.0 867.4V892.6H208.6V892.6H209.2V892.3H209.8V892.7H210.4V892.6H211.0V867.4Z"/>
<path d="M212.2 867.4V892.7H212.8V867.4Z"/>
<path d="M214.0 867.4V881.9H214.6V881.8H215.2V881.8H215.8V881.5H216.4V881.4H217.0V867.4Z"/>
<path d="M218.5 867.4V872.0H219.1V872.0H219.7V872.0H220.3V867.4Z"/>
<path d="M223.9 867.4V872.0H224.5V872.0H225.1V867.4Z"/>
<path d="M225.7 867.4V872.0H226.3V867.4Z"/>
<path d="M226.9 867.4V886.9H227.5V887.7H228.1V867.4Z"/>
<path d="M229.9 867.4V909.9H230.5V909.2H231.1V909.7H231.7V909.5H232.3V867.4Z"/>
<path d="M241.9 867.4V881.2H242.5V867.4Z"/>
<path d="M243.7 867.4V881.6H244.3V881.8H244.9V881.3H245.5V867.4Z"/>
<path d="M259.3 867.4V883.7H259.9V884.0H260.5V867.4Z"/>
<path d="M261.7 867.4V887.3H262.3V887.2H262.9V867.4Z"/>
<path d="M265.3 867.4V877.9H265.9V878.0H266.5V867.4Z"/>
<path d="M268.3 867.4V883.3H268.9V883.8H269.5V883.7H270.1V867.4Z"/>
<path d="M271.3 867.4V892.7H271.9V891.8H272.5V867.4Z"/>
<path d="M273.7 867.4V897.3H274.3V896.5H274.9V896.8H275.5V897.7H276.1V897.0H276.7V867.4Z"/>
<path d="M279.7 867.4V872.0H280.3V867.4Z"/>
<path d="M280.9 867.4V872.0H281.5V872.0H282.1V867.4Z"/>
<path d="M286.9 867.4V875.5H287.5V875.7H288.1V875.8H288.7V876.0H289.3V875.6H289.9V867.4Z"/>
<path d="M292.3 867.4V871.0H292.9V871.0H293.5V871.0H294.1V871.0H294.7V871.0H295.3V871.0H295.9V871.0H296.5V871.0H297.1V867.4Z"/>
<path d="M300.1 867.4V873.7H300.7V873.6H301.3V873.9H301.9V867.4Z"/>
<path d="M306.1 867.4V873.7H306.7V873.9H307.3V874.0H307.9V867.4Z"/>
<path d="M315.1 867.4V873.8H315.7V873.7H316.3V873.8H316.9V873.9H317.5V874.0H318.1V867.4Z"/>
<path d="M318.7 867.4V874.0H319.3V867.4Z"/>
<path d="M321.1 867.4V883.4H321.7V883.6H322.3V867.4Z"/>
<path d="M328.0 867.4V897.7H328.6V897.7H329.2V897.9H329.8V897.3H330.4V896.6H331.0V905.1H331.6V905.1H332.2V897.4H332.8V896.5H333.4V867.4Z"/>
<path d="M334.6 867.4V897.4H335.2V896.9H335.8V896.8H336.4V897.8H337.0V867.4Z"/>
<path d="M338.2 867.4V896.9H338.8V896.9H339.4V897.6H340.0V867.4Z"/>
<path d="M342.7 867.4V906.6H343.3V907.9H343.9V910.4H344.5V912.6H345.1V912.0H345.7V912.6H346.3V867.4Z"/>
<path d="M346.9 867.4V901.9H347.5V902.2H348.1V903.6H348.7V902.1H349.3V867.4Z"/>
<path d="M350.2 867.4V903.7H350.8V902.7H351.4V902.8H352.0V902.6H352.6V867.4Z"/>
<path d="M353.8 867.4V897.4H354.4V897.5H355.0V897.3H355.6V897.3H356.2V897.1H356.8V867.4Z"/>
<path d="M358.0 867.4V870.0H358.6V867.4Z"/>
<path d="M365.8 867.4V870.0H366.4V867.4Z"/>
<path d="M367.9 867.4V870.0H368.5V870.0H369.1V870.0H369.7V870.0H370.3V867.4Z"/>
<path d="M370.9 867.4V879.8H371.5V879.4H372.1V879.4H372.7V879.7H373.3V867.4Z"/>
<path d="M375.7 867.4V873.8H376.3V874.0H376.9V867.4Z"/>
<path d="M380.5 867.4V872.0H381.1V867.4Z"/>
<path d="M382.9 867.4V887.5H383.5V887.0H384.1V887.4H384.7V887.2H385.3V887.9H385.9V867.4Z"/>
<path d="M387.1 867.4V886.9H387.7V887.6H388.3V887.1H388.9V887.9H389.5V887.1H390.1V886.9H390.7V867.4Z"/>
<path d="M391.3 867.4V886.9H391.9V867.4Z"/>
<path d="M399.4 867.4V872.0H400.0V872.0H400.6V872.0H401.2V867.4Z"/>
<path d="M404.8 867.4V879.5H405.4V879.5H406.0V879.8H406.6V879.4H407.2V879.5H407.8V879.8H408.4V879.8H409.0V867.4Z"/>
<path d="M409.9 867.4V879.9H410.5V879.6H411.1V879.3H411.7V879.8H412.3V867.4Z"/>
<path d="M420.1 867.4V872.0H420.7V867.4Z"/>
<path d="M422.2 867.4V872.0H422.8V872.0H423.4V872.0H424.0V872.0H424.6V872.0H425.2V872.0H425.8V872.0H426.4V867.4Z"/>
<path d="M427.6 867.4V872.0H428.2V872.0H428.8V867.4Z"/>
<path d="M438.7 867.4V872.0H439.3V872.0H439.9V891.1H440.5V891.6H441.1V891.5H441.7V891.4H442.3V890.8H442.9V891.6H443.5V890.9H444.1V900.9H444.7V867.4Z"/>
<path d="M445.6 867.4V899.9H446.2V899.8H446.8V899.2H447.4V900.8H448.0V867.4Z"/>
<path d="M449.2 867.4V917.8H449.8V919.0H450.4V919.7H451.0V867.4Z"/>
<path d="M452.8 867.4V916.9H453.4V916.9H454.0V917.6H454.6V917.0H455.2V917.8H455.8V917.3H456.4V916.1H457.0V915.1H457.6V867.4Z"/>
<path d="M458.8 867.4V915.3H459.4V914.1H460.0V913.1H460.6V914.3H461.2V914.1H461.8V909.2H462.4V910.0H463.0V909.9H463.6V867.4Z"/>
<path d="M465.1 867.4V896.9H465.7V897.2H466.3V897.1H466.9V896.4H467.5V897.8H468.1V875.9H468.7V867.4Z"/>
<path d="M469.9 867.4V876.0H470.5V875.7H471.1V875.8H471.7V875.7H472.3V867.4Z"/>
<path d="M472.9 867.4V879.6H473.5V879.6H474.1V879.8H474.7V879.5H475.3V879.6H475.9V879.9H476.5V879.3H477.1V867.4Z"/>
<path d="M478.3 867.4V883.6H478.9V883.9H479.5V883.9H480.1V873.7H480.7V873.9H481.3V873.7H481.9V873.6H482.5V867.4Z"/>
<path d="M483.4 867.4V873.6H484.0V873.8H484.6V873.8H485.2V873.8H485.8V867.4Z"/>
<path d="M487.3 867.4V877.9H487.9V878.0H488.5V878.0H489.1V878.0H489.7V877.9H490.3V870.0H490.9V870.0H491.5V870.0H492.1V870.0H492.7V870.0H493.3V870.0H493.9V867.4Z"/>
<path d="M494.8 867.4V870.0H495.4V870.0H496.0V867.4Z"/>
<path d="M497.8 867.4V877.4H498.4V867.4Z"/>
<path d="M499.0 867.4V877.6H499.6V877.6H500.2V867.4Z"/>
<path d="M502.6 867.4V883.6H503.2V883.5H503.8V883.4H504.4V883.4H505.0V883.6H505.6V883.4H506.2V870.0H506.8V867.4Z"/>
<path d="M507.7 867.4V870.0H508.3V870.0H508.9V870.0H509.5V870.0H510.1V867.4Z"/>
<path d="M511.3 867.4V906.3H511.9V906.9H512.5V867.4Z"/>
<path d="M513.1 867.4V907.0H513.7V905.0H514.3V905.2H514.9V906.9H515.5V906.2H516.1V906.9H516.7V907.4H517.3V907.7H517.9V903.5H518.5V903.9H519.1V903.3H519.7V867.4Z"/>
<path d="M521.2 867.4V903.4H521.8V893.1H522.4V893.3H523.0V892.7H523.6V893.2H524.2V893.6H524.8V893.0H525.4V892.5H526.0V867.4Z"/>
<path d="M526.6 867.4V904.0H527.2V906.0H527.8V905.4H528.4V905.5H529.0V913.8H529.6V913.2H530.2V913.8H530.8V867.4Z"/>
<path d="M531.4 867.4V913.4H532.0V928.8H532.6V929.1H533.2V926.6H533.8V943.0H534.4V942.7H535.0V942.9H535.6V867.4Z"/>
<path d="M536.2 867.4V942.3H536.8V867.4Z"/>
<path d="M537.7 867.4V943.0H538.3V867.4Z"/>
<path d="M538.9 867.4V943.7H539.5V867.4Z"/>
<path d="M540.1 867.4V942.9H540.7V867.4Z"/>
<path d="M552.4 867.4V948.1H553.0V947.1H553.6V947.2H554.2V949.1H554.8V949.8H555.4V949.4H556.0V946.9H556.6V949.2H557.2V867.4Z"/>
<path d="M558.1 867.4V939.9H558.7V939.4H559.3V937.2H559.9V934.8H560.5V934.7H561.1V934.8H561.7V867.4Z"/>
<path d="M562.3 867.4V931.7H562.9V931.7H563.5V931.4H564.1V934.7H564.7V931.5H565.3V931.3H565.9V931.2H566.5V934.6H567.1V867.4Z"/>
<path d="M572.2 867.4V933.6H572.8V867.4Z"/>
<path d="M573.7 867.4V930.7H574.3V931.5H574.9V932.9H575.5V933.6H576.1V867.4Z"/>
<path d="M576.7 867.4V940.7H577.3V940.5H577.9V940.8H578.5V940.4H579.1V941.6H579.7V867.4Z"/>
<path d="M580.6 867.4V941.7H581.2V867.4Z"/>
<path d="M599.8 867.4V928.2H600.4V867.4Z"/>
<path d="M610.9 867.4V922.0H611.5V867.4Z"/>
<path d="M612.1 867.4V922.5H612.7V922.2H613.3V923.0H613.9V995.9H614.5V1001.6H615.1V999.2H615.7V1001.2H616.3V996.4H616.9V867.4Z"/>
<path d="M617.8 867.4V974.1H618.4V971.6H619.0V974.6H619.6V974.2H620.2V976.9H620.8V995.4H621.4V867.4Z"/>
<path d="M622.6 867.4V1000.7H623.2V994.4H623.8V972.9H624.4V974.7H625.0V971.4H625.6V974.3H626.2V977.3H626.8V867.4Z"/>
<path d="M628.0 867.4V937.6H628.6V934.1H629.2V934.2H629.8V917.6H630.4V918.7H631.0V918.0H631.6V918.8H632.2V919.0H632.8V910.9H633.4V867.4Z"/>
<path d="M634.6 867.4V909.4H635.2V910.3H635.8V909.5H636.4V911.7H637.0V910.4H637.6V910.2H638.2V867.4Z"/>
<path d="M639.4 867.4V900.8H640.0V900.9H640.6V900.2H641.2V901.1H641.8V867.4Z"/>
<path d="M643.0 867.4V883.5H643.6V883.3H644.2V883.7H644.8V883.8H645.4V883.7H646.0V873.7H646.6V873.7H647.2V873.8H647.8V873.9H648.4V867.4Z"/>
<path d="M649.3 867.4V873.6H649.9V868.4H650.5V868.4H651.1V868.4H651.7V868.4H652.3V868.4H652.9V867.4Z"/>
<path d="M653.8 867.4V868.4H654.4V868.4H655.0V868.4H655.6V868.4H656.2V868.4H656.8V868.4H657.4V868.4H658.0V868.4H658.6V868.4H659.2V867.4Z"/>
<path d="M660.7 867.4V868.4H661.3V868.4H661.9V893.6H662.5V892.5H663.1V893.6H663.7V892.5H664.3V892.4H664.9V893.7H665.5V892.9H666.1V867.4Z"/>
<path d="M667.0 867.4V907.6H667.6V907.6H668.2V907.3H668.8V907.3H669.4V907.3H670.0V907.7H670.6V905.8H671.2V867.4Z"/>
<path d="M672.4 867.4V915.3H673.0V916.6H673.6V918.0H674.2V915.4H674.8V916.7H675.4V917.3H676.0V915.0H676.6V917.1H677.2V867.4Z"/>
<path d="M678.1 867.4V932.0H678.7V930.1H679.3V933.0H679.9V932.0H680.5V867.4Z"/>
<path d="M681.4 867.4V930.7H682.0V867.4Z"/>
<path d="M683.2 867.4V925.6H683.8V924.9H684.4V925.6H685.0V925.6H685.6V924.8H686.2V925.7H686.8V925.9H687.4V867.4Z"/>
<path d="M688.9 867.4V918.0H689.5V918.6H690.1V919.0H690.7V918.0H691.3V919.7H691.9V918.7H692.5V917.5H693.1V867.4Z"/>
<path d="M694.0 867.4V909.7H694.6V910.7H695.2V911.9H695.8V909.7H696.4V910.6H697.0V910.2H697.6V867.4Z"/>
<path d="M698.8 867.4V898.5H699.4V899.2H700.0V899.0H700.6V898.1H701.2V899.9H701.8V877.7H702.4V867.4Z"/>
<path d="M703.6 867.4V877.7H704.2V877.9H704.8V877.6H705.4V877.7H706.0V871.0H706.6V871.0H707.2V867.4Z"/>
<path d="M708.1 867.4V871.0H708.7V871.0H709.3V871.0H709.9V871.0H710.5V871.0H711.1V871.0H711.7V871.0H712.3V871.0H712.9V871.0H713.5V871.0H714.1V871.0H714.7V867.4Z"/>
<path d="M716.2 867.4V871.0H716.8V871.0H717.4V871.0H718.0V871.0H718.6V867.4Z"/>
<path d="M719.8 867.4V871.0H720.4V871.0H721.0V871.0H721.6V871.0H722.2V871.0H722.8V871.0H723.4V871.0H724.0V871.0H724.6V871.0H725.2V867.4Z"/>
<path d="M726.4 867.4V871.0H727.0V871.0H727.6V871.0H728.2V871.0H728.8V871.0H729.4V871.0H730.0V871.0H730.6V871.0H731.2V871.0H731.8V936.6H732.4V940.2H733.0V867.4Z"/>
<path d="M733.9 867.4V939.4H734.5V940.7H735.1V939.8H735.7V867.4Z"/>
<path d="M738.4 867.4V898.0H739.0V897.2H739.6V867.4Z"/>
<path d="M740.2 867.4V936.2H740.8V935.0H741.4V936.5H742.0V867.4Z"/>
<path d="M743.2 867.4V923.1H743.8V923.2H744.4V867.4Z"/>
<path d="M745.0 867.4V920.7H745.6V867.4Z"/>
<path d="M746.2 867.4V952.6H746.8V952.8H747.4V955.5H748.0V957.1H748.6V952.9H749.2V975.6H749.8V970.8H750.4V974.7H751.0V867.4Z"/>
<path d="M753.1 867.4V979.6H753.7V977.6H754.3V976.4H754.9V976.4H755.5V978.8H756.1V980.0H756.7V867.4Z"/>
<path d="M757.6 867.4V979.6H758.2V867.4Z"/>
<path d="M758.8 867.4V978.0H759.4V982.1H760.0V981.4H760.6V982.2H761.2V867.4Z"/>
<path d="M762.4 867.4V967.0H763.0V965.0H763.6V965.1H764.2V967.8H764.8V966.0H765.4V968.0H766.0V967.0H766.6V966.2H767.2V969.5H767.8V968.3H768.4V867.4Z"/>
<path d="M769.3 867.4V968.5H769.9V973.6H770.5V968.7H771.1V968.2H771.7V980.4H772.3V985.0H772.9V867.4Z"/>
<path d="M774.1 867.4V985.9H774.7V985.9H775.3V979.2H775.9V1004.4H776.5V1007.9H777.1V1009.1H777.7V1008.8H778.3V1008.0H778.9V1003.4H779.5V867.4Z"/>
<path d="M781.0 867.4V1008.2H781.6V1006.6H782.2V1005.4H782.8V1004.8H783.4V1004.1H784.0V1001.6H784.6V1009.2H785.2V1002.3H785.8V1005.3H786.4V867.4Z"/>
<path d="M787.3 867.4V976.7H787.9V978.6H788.5V979.5H789.1V974.3H789.7V958.2H790.3V961.3H790.9V961.3H791.5V959.6H792.1V867.4Z"/>
<path d="M793.0 867.4V959.2H793.6V961.7H794.2V959.3H794.8V961.2H795.4V959.2H796.0V951.4H796.6V867.4Z"/>
<path d="M797.8 867.4V949.6H798.4V951.6H799.0V951.1H799.6V950.5H800.2V867.4Z"/>
<path d="M801.1 867.4V963.5H801.7V960.1H802.3V962.0H802.9V976.8H803.5V975.6H804.1V973.7H804.7V977.9H805.3V977.7H805.9V957.8H806.5V956.3H807.1V957.4H807.7V867.4Z"/>
<path d="M808.9 867.4V957.3H809.5V955.8H810.1V959.2H810.7V958.8H811.3V957.7H811.9V867.4Z"/>
<path d="M813.4 867.4V953.5H814.0V950.6H814.6V952.2H815.2V867.4Z"/>
<path d="M818.2 867.4V936.2H818.8V881.6H819.4V881.5H820.0V881.3H820.6V881.7H821.2V871.0H821.8V871.0H822.4V867.4Z"/>
<path d="M823.6 867.4V871.0H824.2V871.0H824.8V871.0H825.4V871.0H826.0V871.0H826.6V871.0H827.2V871.0H827.8V871.0H828.4V871.0H829.0V871.0H829.6V871.0H830.2V867.4Z"/>
<path d="M831.4 867.4V871.0H832.0V871.0H832.6V871.0H833.2V871.0H833.8V871.0H834.4V871.0H835.0V871.0H835.6V871.0H836.2V877.4H836.8V867.4Z"/>
<path d="M838.3 867.4V877.6H838.9V867.4Z"/>
<path d="M845.2 867.4V875.9H845.8V875.6H846.4V875.9H847.0V875.5H847.6V867.4Z"/>
<path d="M868.0 867.4V881.7H868.6V882.0H869.2V881.8H869.8V867.4Z"/>
<path d="M879.7 867.4V883.1H880.3V883.4H880.9V883.4H881.5V867.4Z"/>
<path d="M898.9 867.4V886.9H899.5V887.2H900.1V887.5H900.7V887.0H901.3V887.0H901.9V867.4Z"/>
<path d="M909.1 867.4V911.5H909.7V911.9H910.3V867.4Z"/>
<path d="M915.1 867.4V898.9H915.7V895.9H916.3V895.8H916.9V894.6H917.5V867.4Z"/>
<path d="M918.7 867.4V883.9H919.3V883.3H919.9V871.0H920.5V871.0H921.1V871.0H921.7V871.0H922.3V871.0H922.9V871.0H923.5V871.0H924.1V871.0H924.7V867.4Z"/>
<path d="M925.9 867.4V871.0H926.5V871.0H927.1V871.0H927.7V871.0H928.3V871.0H928.9V871.0H929.5V867.4Z"/>
<path d="M930.7 867.4V871.0H931.3V871.0H931.9V871.0H932.5V871.0H933.1V871.0H933.7V871.0H934.3V871.0H934.9V871.0H935.5V871.0H936.1V871.0H936.7V867.4Z"/>
<path d="M938.2 867.4V871.0H938.8V871.0H939.4V871.0H940.0V871.0H940.6V871.0H941.2V867.4Z"/>
<path d="M941.8 867.4V871.0H942.4V871.0H943.0V871.0H943.6V871.0H944.2V877.4H944.8V877.6H945.4V877.7H946.0V871.0H946.6V871.0H947.2V871.0H947.8V871.0H948.4V867.4Z"/>
<path d="M949.3 867.4V879.3H949.9V879.4H950.5V879.8H951.1V872.0H951.7V867.4Z"/>
<path d="M952.3 867.4V872.0H952.9V872.0H953.5V872.0H954.1V872.0H954.7V872.0H955.3V867.4Z"/>
<path d="M956.2 867.4V903.4H956.8V902.8H957.4V903.0H958.0V913.8H958.6V913.3H959.2V914.9H959.8V913.8H960.4V914.0H961.0V893.8H961.6V892.8H962.2V893.5H962.8V867.4Z"/>
<path d="M963.4 867.4V900.6H964.0V900.2H964.6V900.1H965.2V867.4Z"/>
<path d="M968.8 867.4V903.9H969.4V903.9H970.0V867.4Z"/>
<path d="M971.2 867.4V902.1H971.8V902.5H972.4V902.6H973.0V903.1H973.6V867.4Z"/>
<path d="M974.2 867.4V909.6H974.8V907.8H975.4V908.8H976.0V909.8H976.6V909.1H977.2V908.5H977.8V922.5H978.4V921.7H979.0V867.4Z"/>
<path d="M980.5 867.4V935.5H981.1V934.3H981.7V934.4H982.3V867.4Z"/>
<path d="M984.7 867.4V925.6H985.3V924.2H985.9V867.4Z"/>
<path d="M991.9 867.4V931.7H992.5V931.9H993.1V930.6H993.7V930.4H994.3V929.8H994.9V867.4Z"/>
<path d="M998.2 867.4V929.2H998.8V931.9H999.4V931.4H1000.0V915.5H1000.6V916.2H1001.2V915.0H1001.8V917.3H1002.4V916.8H1003.0V909.0H1003.6V867.4Z"/>
<path d="M1005.1 867.4V909.3H1005.7V910.0H1006.3V909.3H1006.9V908.9H1007.5V908.5H1008.1V894.6H1008.7V894.5H1009.3V867.4Z"/>
<path d="M1010.5 867.4V894.6H1011.1V894.6H1011.7V893.6H1012.3V894.1H1012.9V867.4Z"/>
<path d="M1014.1 867.4V893.9H1014.7V893.5H1015.3V894.4H1015.9V902.8H1016.5V901.8H1017.1V901.3H1017.7V897.6H1018.3V896.6H1018.9V867.4Z"/>
<path d="M1020.4 867.4V896.9H1021.0V896.8H1021.6V897.1H1022.2V897.6H1022.8V904.4H1023.4V903.3H1024.0V903.2H1024.6V867.4Z"/>
<path d="M1025.8 867.4V893.9H1026.4V892.7H1027.0V892.8H1027.6V893.6H1028.2V882.5H1028.8V882.2H1029.4V882.2H1030.0V882.5H1030.6V882.6H1031.2V875.7H1031.8V875.9H1032.4V867.4Z"/>
<path d="M1033.9 867.4V869.6H1034.5V869.6H1035.1V869.6H1035.7V869.6H1036.3V869.6H1036.9V869.6H1037.5V869.6H1038.1V867.4Z"/>
<path d="M1038.7 867.4V869.6H1039.3V869.6H1039.9V869.6H1040.5V869.6H1041.1V869.6H1041.7V869.6H1042.3V867.4Z"/>
<path d="M1043.5 867.4V869.6H1044.1V869.6H1044.7V869.6H1045.3V869.6H1045.9V869.6H1046.5V869.6H1047.1V869.6H1047.7V869.6H1048.3V869.6H1048.9V867.4Z"/>
<path d="M1050.4 867.4V869.6H1051.0V869.6H1051.6V869.6H1052.2V869.6H1052.8V869.6H1053.4V869.6H1054.0V869.6H1054.6V869.6H1055.2V869.6H1055.8V867.4Z"/>
<path d="M1057.0 867.4V869.6H1057.6V869.6H1058.2V869.6H1058.8V869.6H1059.4V869.6H1060.0V869.6H1060.6V867.4Z"/>
<path d="M1061.5 867.4V869.6H1062.1V869.6H1062.7V869.6H1063.3V869.6H1063.9V867.4Z"/>
<path d="M1065.1 867.4V869.6H1065.7V869.6H1066.3V869.6H1066.9V869.6H1067.5V869.6H1068.1V884.6H1068.7V884.5H1069.3V884.9H1069.9V884.7H1070.5V867.4Z"/>
<path d="M1071.1 867.4V872.0H1071.7V872.0H1072.3V872.0H1072.9V872.0H1073.5V867.4Z"/>
<path d="M1074.7 867.4V872.0H1075.3V872.0H1075.9V872.0H1076.5V872.0H1077.1V872.0H1077.7V872.0H1078.3V872.0H1078.9V872.0H1079.5V867.4Z"/>
<path d="M1081.0 867.4V869.0H1081.6V869.0H1082.2V869.0H1082.8V869.0H1083.4V867.4Z"/>
<path d="M1084.0 867.4V869.0H1084.6V869.0H1085.2V869.0H1085.8V869.0H1086.4V867.4Z"/>
<path d="M1087.3 867.4V869.0H1087.9V869.0H1088.5V869.0H1089.1V869.0H1089.7V869.0H1090.3V869.0H1090.9V869.0H1091.5V869.0H1092.1V867.4Z"/>
<path d="M1092.7 867.4V883.4H1093.3V883.7H1093.9V867.4Z"/>
<path d="M1095.4 867.4V883.9H1096.0V883.6H1096.6V883.4H1097.2V883.4H1097.8V883.9H1098.4V883.2H1099.0V883.7H1099.6V883.0H1100.2V867.4Z"/>
<path d="M1101.4 867.4V884.0H1102.0V884.0H1102.6V883.6H1103.2V883.3H1103.8V877.7H1104.4V877.5H1105.0V877.4H1105.6V877.5H1106.2V877.6H1106.8V877.4H1107.4V867.4Z"/>
<path d="M1108.0 867.4V877.8H1108.6V877.9H1109.2V877.9H1109.8V877.4H1110.4V877.7H1111.0V867.4Z"/>
<path d="M1112.2 867.4V875.6H1112.8V875.8H1113.4V875.9H1114.0V875.6H1114.6V875.9H1115.2V875.5H1115.8V867.4Z"/>
<path d="M1117.0 867.4V875.5H1117.6V875.5H1118.2V875.6H1118.8V876.0H1119.4V875.6H1120.0V879.5H1120.6V879.5H1121.2V879.3H1121.8V880.0H1122.4V867.4Z"/>
<path d="M1123.0 867.4V879.4H1123.6V879.3H1124.2V879.5H1124.8V879.8H1125.4V879.6H1126.0V879.4H1126.6V867.4Z"/>
<path d="M1127.8 867.4V873.9H1128.4V873.9H1129.0V874.0H1129.6V873.8H1130.2V873.9H1130.8V867.4Z"/>
<path d="M1132.0 867.4V873.6H1132.6V873.6H1133.2V873.8H1133.8V873.6H1134.4V873.7H1135.0V873.9H1135.6V873.7H1136.2V867.4Z"/>
<path d="M1137.1 867.4V883.1H1137.7V883.1H1138.3V883.9H1138.9V883.6H1139.5V883.9H1140.1V867.4Z"/>
<path d="M1141.6 867.4V883.4H1142.2V883.5H1142.8V883.7H1143.4V883.2H1144.0V883.5H1144.6V883.4H1145.2V883.9H1145.8V883.8H1146.4V883.9H1147.0V883.3H1147.6V867.4Z"/>
<path d="M1148.2 867.4V883.1H1148.8V883.7H1149.4V883.6H1150.0V883.8H1150.6V883.7H1151.2V883.2H1151.8V867.4Z"/>
<path d="M1153.0 867.4V877.8H1153.6V877.9H1154.2V877.7H1154.8V877.7H1155.4V877.9H1156.0V877.7H1156.6V877.6H1157.2V877.5H1157.8V877.4H1158.4V867.4Z"/>
<path d="M1159.3 867.4V877.9H1159.9V873.7H1160.5V873.6H1161.1V873.8H1161.7V873.9H1162.3V873.9H1162.9V873.9H1163.5V873.8H1164.1V873.8H1164.7V873.9H1165.3V873.7H1165.9V867.4Z"/>
<path d="M1167.1 867.4V873.6H1167.7V874.0H1168.3V873.7H1168.9V873.9H1169.5V873.9H1170.1V884.0H1170.7V883.2H1171.3V883.5H1171.9V867.4Z"/>
<path d="M1172.8 867.4V883.6H1173.4V883.1H1174.0V883.8H1174.6V883.4H1175.2V883.9H1175.8V883.8H1176.4V867.4Z"/>
<path d="M1177.6 867.4V883.8H1178.2V901.8H1178.8V901.8H1179.4V900.7H1180.0V901.0H1180.6V901.4H1181.2V901.6H1181.8V867.4Z"/>
<path d="M1182.7 867.4V906.3H1183.3V907.0H1183.9V905.4H1184.5V905.8H1185.1V905.0H1185.7V907.7H1186.3V908.7H1186.9V867.4Z"/>
<path d="M1188.4 867.4V909.3H1189.0V902.6H1189.6V901.9H1190.2V903.8H1190.8V903.1H1191.4V902.3H1192.0V900.7H1192.6V899.7H1193.2V900.5H1193.8V867.4Z"/>
<path d="M1195.0 867.4V887.8H1195.6V887.5H1196.2V887.3H1196.8V888.0H1197.4V887.4H1198.0V887.4H1198.6V887.4H1199.2V887.9H1199.8V892.9H1200.4V867.4Z"/>
<path d="M1201.0 867.4V893.1H1201.6V892.6H1202.2V893.5H1202.8V893.8H1203.4V892.8H1204.0V893.3H1204.6V894.0H1205.2V896.5H1205.8V897.8H1206.4V867.4Z"/>
<path d="M1207.6 867.4V897.6H1208.2V897.7H1208.8V993.2H1209.4V992.1H1210.0V987.8H1210.6V993.8H1211.2V993.3H1211.8V867.4Z"/>
<path d="M1212.4 867.4V868.4H1213.0V868.4H1213.6V868.4H1214.2V868.4H1214.8V868.4H1215.4V868.4H1216.0V868.4H1216.6V867.4Z"/>
<path d="M1217.8 867.4V868.4H1218.4V868.4H1219.0V868.4H1219.6V868.4H1220.2V867.4Z"/>
<path d="M1221.7 867.4V868.4H1222.3V868.4H1222.9V868.4H1223.5V868.4H1224.1V1008.0H1224.7V1006.2H1225.3V1007.0H1225.9V1009.2H1226.5V1008.5H1227.1V1007.7H1227.7V897.1H1228.3V867.4Z"/>
<path d="M1229.8 867.4V1005.0H1230.4V1002.6H1231.0V1004.9H1231.6V1001.1H1232.2V998.8H1232.8V867.4Z"/>
<path d="M1234.0 867.4V996.8H1234.6V867.4Z"/>
<path d="M1235.2 867.4V996.7H1235.8V991.5H1236.4V990.7H1237.0V995.0H1237.6V994.7H1238.2V972.4H1238.8V974.5H1239.4V975.4H1240.0V971.8H1240.6V972.8H1241.2V983.6H1241.8V867.4Z"/>
<path d="M1243.0 867.4V980.9H1243.6V980.0H1244.2V982.0H1244.8V979.0H1245.4V983.7H1246.0V959.7H1246.6V958.8H1247.2V867.4Z"/>
<path d="M1248.4 867.4V961.2H1249.0V958.1H1249.6V960.0H1250.2V947.6H1250.8V948.6H1251.4V951.9H1252.0V951.4H1252.6V951.0H1253.2V950.4H1253.8V867.4Z"/>
<path d="M1255.3 867.4V916.0H1255.9V917.3H1256.5V916.7H1257.1V916.8H1257.7V894.3H1258.3V895.2H1258.9V895.9H1259.5V867.4Z"/>
<path d="M1261.0 867.4V875.6H1261.6V875.7H1262.2V875.5H1262.8V875.7H1263.4V867.4Z"/>
<path d="M1264.0 867.4V875.9H1264.6V875.9H1265.2V891.0H1265.8V890.7H1266.4V867.4Z"/>
<path d="M1267.9 867.4V877.9H1268.5V877.8H1269.1V877.9H1269.7V878.0H1270.3V867.4Z"/>
<path d="M1271.5 867.4V877.7H1272.1V890.2H1272.7V890.8H1273.3V890.8H1273.9V890.8H1274.5V890.6H1275.1V890.4H1275.7V887.6H1276.3V867.4Z"/>
<path d="M1276.9 867.4V887.1H1277.5V887.6H1278.1V887.4H1278.7V877.6H1279.3V877.9H1279.9V877.8H1280.5V877.7H1281.1V867.4Z"/>
<path d="M1281.7 867.4V877.4H1282.3V877.8H1282.9V877.7H1283.5V877.5H1284.1V885.0H1284.7V884.6H1285.3V884.8H1285.9V884.4H1286.5V884.0H1287.1V867.4Z"/>
<path d="M1288.3 867.4V877.4H1288.9V877.9H1289.5V877.4H1290.1V877.8H1290.7V877.8H1291.3V877.8H1291.9V870.0H1292.5V870.0H1293.1V870.0H1293.7V870.0H1294.3V867.4Z"/>
<path d="M1294.9 867.4V870.0H1295.5V870.0H1296.1V870.0H1296.7V870.0H1297.3V870.0H1297.9V870.0H1298.5V870.0H1299.1V867.4Z"/>
<path d="M1300.3 867.4V870.0H1300.9V870.0H1301.5V870.0H1302.1V870.0H1302.7V867.4Z"/>
<path d="M1303.3 867.4V870.0H1303.9V870.0H1304.5V870.0H1305.1V870.0H1305.7V870.0H1306.3V870.0H1306.9V867.4Z"/>
<path d="M1308.4 867.4V883.1H1309.0V883.6H1309.6V883.9H1310.2V883.6H1310.8V883.6H1311.4V867.4Z"/>
<path d="M1312.9 867.4V883.8H1313.5V883.0H1314.1V870.0H1314.7V870.0H1315.3V870.0H1315.9V867.4Z"/>
<path d="M1317.4 867.4V870.0H1318.0V870.0H1318.6V870.0H1319.2V870.0H1319.8V870.0H1320.4V870.0H1321.0V867.4Z"/>
<path d="M1328.8 867.4V879.5H1329.4V879.4H1330.0V867.4Z"/>
<path d="M1331.2 867.4V885.1H1331.8V885.4H1332.4V867.4Z"/>
<path d="M1336.9 867.4V873.7H1337.5V873.7H1338.1V867.4Z"/>
<path d="M1347.1 867.4V885.5H1347.7V885.4H1348.3V885.9H1348.9V867.4Z"/>
<path d="M1349.5 867.4V897.7H1350.1V896.4H1350.7V867.4Z"/>
<path d="M1353.1 867.4V895.5H1353.7V894.9H1354.3V867.4Z"/>
<path d="M1363.0 867.4V907.3H1363.6V907.1H1364.2V907.1H1364.8V906.7H1365.4V906.5H1366.0V906.4H1366.6V908.0H1367.2V917.6H1367.8V867.4Z"/>
<path d="M1369.0 867.4V918.6H1369.6V919.4H1370.2V919.0H1370.8V919.5H1371.4V918.2H1372.0V912.4H1372.6V913.8H1373.2V911.4H1373.8V913.1H1374.4V911.6H1375.0V911.7H1375.6V867.4Z"/>
<path d="M1376.8 867.4V915.0H1377.4V915.3H1378.0V915.1H1378.6V917.9H1379.2V936.9H1379.8V934.2H1380.4V936.7H1381.0V935.7H1381.6V936.7H1382.2V867.4Z"/>
<path d="M1383.1 867.4V925.0H1383.7V925.4H1384.3V926.4H1384.9V926.3H1385.5V927.9H1386.1V925.5H1386.7V910.8H1387.3V912.0H1387.9V911.8H1388.5V911.4H1389.1V867.4Z"/>
<path d="M1390.6 867.4V904.8H1391.2V904.5H1391.8V903.8H1392.4V905.6H1393.0V905.6H1393.6V905.0H1394.2V905.1H1394.8V904.2H1395.4V903.9H1396.0V902.7H1396.6V867.4Z"/>
<path d="M1397.8 867.4V903.2H1398.4V903.2H1399.0V903.8H1399.6V903.3H1400.2V903.6H1400.8V867.4Z"/>
<path d="M1401.7 867.4V902.2H1402.3V901.8H1402.9V902.0H1403.5V903.1H1404.1V895.7H1404.7V895.5H1405.3V895.1H1405.9V895.1H1406.5V867.4Z"/>
<path d="M1407.7 867.4V895.7H1408.3V894.9H1408.9V895.0H1409.5V895.4H1410.1V901.8H1410.7V902.6H1411.3V903.9H1411.9V867.4Z"/>
<path d="M1413.1 867.4V902.3H1413.7V903.3H1414.3V902.5H1414.9V904.0H1415.5V903.3H1416.1V896.5H1416.7V896.9H1417.3V896.8H1417.9V897.6H1418.5V897.1H1419.1V867.4Z"/>
<path d="M1419.7 867.4V897.1H1420.3V897.7H1420.9V897.6H1421.5V896.9H1422.1V887.8H1422.7V887.4H1423.3V887.4H1423.9V888.0H1424.5V867.4Z"/>
<path d="M1426.0 867.4V869.0H1426.6V869.0H1427.2V869.0H1427.8V869.0H1428.4V869.0H1429.0V867.4Z"/>
<path d="M1429.9 867.4V869.0H1430.5V869.0H1431.1V869.0H1431.7V869.0H1432.3V869.0H1432.9V869.0H1433.5V869.0H1434.1V869.0H1434.7V869.0H1435.3V869.0H1435.9V869.0H1436.5V867.4Z"/>
<path d="M1437.7 867.4V869.0H1438.3V869.0H1438.9V869.0H1439.5V869.0H1440.1V869.0H1440.7V869.0H1441.3V869.0H1441.9V869.0H1442.5V869.0H1443.1V869.0H1443.7V867.4Z"/>
<path d="M1444.3 867.4V869.0H1444.9V869.0H1445.5V869.0H1446.1V869.0H1446.7V867.4Z"/>
<path d="M1448.2 867.4V869.0H1448.8V869.0H1449.4V869.0H1450.0V869.0H1450.6V869.0H1451.2V869.0H1451.8V869.0H1452.4V869.0H1453.0V869.0H1453.6V867.4Z"/>
<path d="M1454.5 867.4V897.5H1455.1V897.9H1455.7V896.8H1456.3V896.4H1456.9V896.3H1457.5V897.9H1458.1V907.5H1458.7V867.4Z"/>
<path d="M1459.9 867.4V907.9H1460.5V905.8H1461.1V906.6H1461.7V905.7H1462.3V906.9H1462.9V906.5H1463.5V907.4H1464.1V899.9H1464.7V898.2H1465.3V898.3H1465.9V867.4Z"/>
<path d="M1466.5 867.4V898.2H1467.1V898.4H1467.7V889.6H1468.3V889.2H1468.9V888.7H1469.5V889.3H1470.1V888.7H1470.7V889.7H1471.3V889.5H1471.9V867.4Z"/>
<path d="M1472.5 867.4V887.6H1473.1V886.9H1473.7V887.4H1474.3V887.0H1474.9V887.7H1475.5V887.8H1476.1V887.6H1476.7V867.4Z"/>
<path d="M1477.9 867.4V886.8H1478.5V887.6H1479.1V887.3H1479.7V881.9H1480.3V881.5H1480.9V881.7H1481.5V867.4Z"/>
<path d="M1482.1 867.4V881.2H1482.7V881.6H1483.3V881.2H1483.9V881.5H1484.5V881.7H1485.1V912.7H1485.7V913.0H1486.3V912.8H1486.9V913.2H1487.5V913.9H1488.1V867.4Z"/>
<path d="M1488.7 867.4V912.0H1489.3V913.7H1489.9V921.1H1490.5V919.3H1491.1V921.6H1491.7V920.5H1492.3V867.4Z"/>
<path d="M1493.2 867.4V920.8H1493.8V907.5H1494.4V907.0H1495.0V906.5H1495.6V906.6H1496.2V907.3H1496.8V906.8H1497.4V867.4Z"/>
<path d="M1498.3 867.4V912.5H1498.9V913.1H1499.5V912.3H1500.1V912.1H1500.7V913.3H1501.3V913.7H1501.9V912.2H1502.5V867.4Z"/>
<path d="M1503.4 867.4V913.3H1504.0V913.4H1504.6V911.6H1505.2V913.7H1505.8V912.6H1506.4V912.5H1507.0V913.2H1507.6V867.4Z"/>
<path d="M1508.8 867.4V912.2H1509.4V912.4H1510.0V903.3H1510.6V903.1H1511.2V903.8H1511.8V903.6H1512.4V902.1H1513.0V903.3H1513.6V902.5H1514.2V883.9H1514.8V867.4Z"/>
<path d="M1515.4 867.4V883.2H1516.0V883.8H1516.6V883.3H1517.2V883.9H1517.8V877.8H1518.4V877.5H1519.0V877.7H1519.6V877.8H1520.2V877.5H1520.8V867.4Z"/>
<path d="M1522.3 867.4V872.0H1522.9V872.0H1523.5V872.0H1524.1V872.0H1524.7V872.0H1525.3V872.0H1525.9V872.0H1526.5V872.0H1527.1V872.0H1527.7V872.0H1528.3V872.0H1528.9V867.4Z"/>
<path d="M1529.8 867.4V872.0H1530.4V872.0H1531.0V872.0H1531.6V872.0H1532.2V872.0H1532.8V867.4Z"/>
</g>
<path d="M88.0 868.0 L89.3 868.9 L90.7 871.6 L92.0 873.0 L93.3 873.9 L94.7 874.1 L96.0 875.0 L97.7 871.4 L99.4 868.0 L101.2 870.8 L103.0 873.0 L104.7 875.0 L106.3 875.9 L108.0 878.0 L109.7 877.2 L111.3 875.1 L113.0 874.0 L114.7 873.9 L116.3 872.8 L118.0 873.0 L119.5 871.1 L121.0 871.2 L122.5 869.6 L124.0 868.0 L125.3 870.3 L126.7 871.3 L128.0 874.0 L129.3 874.9 L130.7 876.8 L132.0 879.0 L133.5 879.8 L135.0 881.2 L136.5 882.6 L138.0 884.0 L139.3 882.8 L140.7 882.7 L142.0 882.7 L143.3 881.5 L144.7 882.0 L146.0 881.0 L147.7 883.4 L149.3 886.0 L151.0 888.0 L152.7 894.6 L154.4 902.0 L156.2 900.9 L158.0 900.0 L159.3 897.3 L160.7 893.8 L162.0 891.0 L163.5 891.0 L165.0 893.0 L166.5 893.7 L168.0 894.0 L169.5 894.4 L171.0 894.8 L172.5 896.8 L174.0 897.0 L175.7 898.5 L177.3 898.9 L179.0 901.0 L180.5 907.6 L182.0 915.0 L183.5 910.9 L185.0 908.0 L186.4 906.9 L187.8 904.3 L189.2 903.9 L190.6 902.0 L192.0 900.0 L193.4 899.1 L194.8 899.9 L196.2 899.2 L197.6 899.6 L199.0 899.0 L200.7 901.5 L202.3 902.6 L204.0 905.0 L205.7 902.3 L207.3 901.7 L209.0 899.0 L210.7 900.2 L212.3 902.4 L214.0 903.0 L215.5 904.1 L217.0 904.9 L218.5 905.8 L220.0 906.0 L221.7 909.5 L223.3 912.6 L225.0 916.0 L226.3 920.0 L227.7 925.7 L229.0 930.0 L230.7 925.6 L232.3 921.4 L234.0 917.0 L235.5 920.9 L237.0 922.9 L238.5 927.2 L240.0 930.0 L241.5 925.3 L243.0 922.0 L244.4 921.7 L245.8 921.3 L247.2 919.8 L248.6 919.7 L250.0 919.0 L251.7 920.1 L253.3 919.9 L255.0 920.0 L256.7 922.4 L258.3 924.3 L260.0 927.0 L261.7 927.3 L263.3 928.8 L265.0 930.0 L266.3 927.2 L267.7 924.2 L269.0 922.0 L270.5 920.0 L272.0 918.1 L273.5 917.3 L275.0 915.6 L276.5 913.2 L278.0 912.0 L279.3 911.3 L280.7 911.4 L282.0 911.0 L283.5 911.4 L285.0 912.7 L286.5 912.3 L288.0 913.0 L289.5 911.4 L291.0 911.1 L292.5 908.7 L294.0 908.0 L295.3 907.8 L296.7 907.1 L298.0 907.5 L299.3 906.7 L300.7 906.8 L302.0 906.0 L303.3 904.1 L304.7 903.6 L306.0 902.2 L307.3 900.6 L308.7 899.8 L310.0 898.0 L311.5 898.0 L313.0 896.4 L314.5 896.2 L316.0 896.0 L317.5 896.8 L319.0 897.5 L320.5 898.3 L322.0 900.0 L323.3 898.6 L324.7 897.5 L326.0 897.0 L327.3 898.7 L328.7 899.6 L330.0 901.0 L331.5 899.4 L333.0 898.7 L334.5 897.9 L336.0 897.0 L337.3 897.8 L338.7 898.5 L340.0 899.3 L341.3 900.2 L342.7 902.8 L344.0 903.0 L345.5 902.2 L347.0 899.8 L348.5 899.6 L350.0 898.0 L351.7 899.1 L353.3 898.8 L355.0 899.0 L356.3 896.4 L357.7 895.0 L359.0 893.0 L360.5 891.9 L362.0 890.5 L363.5 890.1 L365.0 889.0 L366.3 889.2 L367.7 891.7 L369.0 892.0 L370.7 891.2 L372.3 890.2 L374.0 889.0 L375.4 890.9 L376.8 891.6 L378.2 892.2 L379.6 893.4 L381.0 895.0 L382.3 893.4 L383.7 892.2 L385.0 892.4 L386.3 891.5 L387.7 889.7 L389.0 889.0 L390.5 887.8 L392.0 887.9 L393.5 887.6 L395.0 887.0 L396.5 885.1 L398.0 885.0 L399.5 885.7 L401.0 886.0 L402.5 886.1 L404.0 886.0 L405.7 887.4 L407.3 888.8 L409.0 891.0 L410.4 889.9 L411.8 887.5 L413.2 886.0 L414.6 884.7 L416.0 883.0 L417.3 882.3 L418.7 882.5 L420.0 881.1 L421.3 880.3 L422.7 880.6 L424.0 880.0 L425.3 879.9 L426.7 879.8 L428.0 879.3 L429.3 879.3 L430.7 879.0 L432.0 878.0 L433.4 877.8 L434.8 877.6 L436.2 876.9 L437.6 876.9 L439.0 877.0 L440.0 878.0 L441.5 879.4 L443.0 879.8 L444.5 882.1 L446.0 883.0 L447.5 881.7 L449.0 881.4 L450.5 881.5 L452.0 880.0 L453.3 878.3 L454.7 877.3 L456.0 876.9 L457.3 875.5 L458.7 875.4 L460.0 874.0 L461.5 872.0 L463.0 872.0 L464.5 870.8 L466.0 869.0 L467.5 869.0 L469.0 867.9 L470.5 867.2 L472.0 867.0 L483.0 867.0 L484.5 870.3 L486.0 873.0 L487.5 871.5 L489.0 869.9 L490.5 868.2 L492.0 867.0 L493.3 867.2 L494.7 867.9 L496.0 868.5 L497.3 869.0 L498.7 868.1 L500.0 869.0 L501.5 868.7 L503.0 868.9 L504.5 869.1 L506.0 869.0 L507.3 871.8 L508.7 874.5 L510.0 878.0 L511.3 875.7 L512.7 874.4 L514.0 872.9 L515.3 872.1 L516.7 870.3 L518.0 868.0 L519.3 870.3 L520.7 872.1 L522.0 873.7 L523.3 874.9 L524.7 876.8 L526.0 878.0 L527.7 876.3 L529.3 876.3 L531.0 875.0 L532.3 879.5 L533.7 883.3 L535.0 888.0 L536.3 888.1 L537.7 888.7 L539.0 888.0 L540.3 889.6 L541.7 891.6 L543.0 893.0 L544.5 890.2 L546.0 887.7 L547.5 886.1 L549.0 883.0 L550.3 881.9 L551.7 881.8 L553.0 882.0 L554.4 885.1 L555.8 887.5 L557.2 889.7 L558.6 893.5 L560.0 896.0 L561.3 895.8 L562.7 896.1 L564.0 896.0 L565.3 895.2 L566.7 894.7 L568.0 894.0 L569.3 897.4 L570.7 900.5 L572.0 904.0 L573.3 910.7 L574.7 918.2 L576.0 926.0 L577.3 930.6 L578.7 934.1 L580.0 938.0 L581.3 935.7 L582.7 935.2 L584.0 933.0 L585.3 932.3 L586.7 931.7 L588.0 932.0 L589.5 935.0 L591.0 938.0 L592.5 937.1 L594.0 937.0 L595.3 941.6 L596.7 946.4 L598.0 951.0 L599.5 945.1 L601.0 940.0 L602.7 937.4 L604.3 934.0 L606.0 932.0 L607.7 930.0 L609.3 928.1 L611.0 926.0 L612.3 927.0 L613.7 929.2 L615.0 931.0 L616.3 926.7 L617.7 923.6 L619.0 920.0 L620.4 919.6 L621.8 918.1 L623.1 917.3 L624.5 916.4 L625.9 914.4 L627.2 914.8 L628.6 913.4 L630.0 912.0 L631.4 910.6 L632.8 910.9 L634.2 909.4 L635.6 908.3 L637.0 908.0 L638.4 908.1 L639.8 906.9 L641.2 906.6 L642.6 905.0 L644.0 905.0 L645.7 907.4 L647.3 908.3 L649.0 911.0 L650.5 908.1 L652.0 905.8 L653.5 902.7 L655.0 901.0 L656.7 899.5 L658.3 897.2 L660.0 896.0 L661.5 898.7 L663.0 902.3 L664.5 904.9 L666.0 908.0 L667.7 910.3 L669.3 911.5 L671.0 913.0 L672.3 911.3 L673.7 908.4 L675.0 906.0 L676.3 908.0 L677.7 909.3 L679.0 910.0 L680.4 907.5 L681.8 906.4 L683.2 903.7 L684.6 902.4 L686.0 900.0 L687.5 899.0 L689.0 898.0 L690.5 895.6 L692.0 895.0 L693.3 893.5 L694.7 892.7 L696.0 891.7 L697.3 890.0 L698.7 887.6 L700.0 887.0 L701.5 885.7 L703.0 883.4 L704.5 882.6 L706.0 881.0 L707.7 882.5 L709.3 882.4 L711.0 884.0 L712.7 882.7 L714.3 880.3 L716.0 878.0 L717.3 878.8 L718.7 879.8 L720.0 881.4 L721.3 883.2 L722.7 884.0 L724.0 885.0 L725.3 882.7 L726.7 880.9 L728.0 880.0 L729.7 884.4 L731.3 890.5 L733.0 895.0 L734.7 894.8 L736.3 895.8 L738.0 896.0 L739.5 897.2 L741.0 899.0 L742.5 893.8 L744.0 888.0 L745.7 890.1 L747.3 892.1 L749.0 895.0 L750.7 892.6 L752.3 889.1 L754.0 886.0 L755.3 884.5 L756.7 882.8 L758.0 881.2 L759.3 877.9 L760.7 876.6 L762.0 875.0 L763.5 872.9 L765.0 872.0 L766.5 871.1 L768.0 869.0 L769.7 870.8 L771.3 870.9 L773.0 873.0 L774.7 874.8 L776.3 878.2 L778.0 880.0 L779.5 878.5 L781.0 876.3 L782.5 874.7 L784.0 873.0 L785.5 871.2 L787.0 871.1 L788.5 869.1 L790.0 868.0 L791.5 868.6 L793.0 868.2 L794.5 867.3 L796.0 868.0 L797.3 870.7 L798.7 873.5 L800.0 877.0 L801.5 876.4 L803.0 874.6 L804.5 872.5 L806.0 872.0 L807.5 870.2 L809.0 869.3 L810.5 868.2 L812.0 867.0 L813.3 867.3 L814.7 867.2 L816.0 867.3 L817.3 866.9 L818.7 868.0 L820.0 868.0 L821.5 868.2 L823.0 868.2 L824.5 869.4 L826.0 870.0 L827.3 869.8 L828.7 867.3 L830.0 867.0 L831.4 867.8 L832.8 870.1 L834.2 870.8 L835.6 872.2 L837.0 874.0 L838.5 870.5 L840.0 867.0 L841.5 868.6 L843.0 871.1 L844.5 873.0 L846.0 875.0 L847.5 874.2 L849.0 872.8 L850.5 869.8 L852.0 869.0 L853.3 868.8 L854.7 868.8 L856.0 868.6 L857.3 868.1 L858.7 867.5 L860.0 867.0 L861.5 867.7 L863.0 867.8 L864.5 868.2 L866.0 869.0 L867.3 872.1 L868.7 874.9 L870.0 877.0 L871.3 874.7 L872.7 871.3 L874.0 868.0 L875.4 867.8 L876.9 868.7 L878.3 868.8 L879.7 868.6 L881.1 868.9 L882.6 868.6 L884.0 869.0 L885.3 868.7 L886.7 868.2 L888.0 867.3 L889.3 867.4 L890.7 867.1 L892.0 867.0 L893.5 868.5 L895.0 868.5 L896.5 869.0 L898.0 870.0 L899.3 868.9 L900.7 868.2 L902.0 868.0 L903.4 869.8 L904.8 871.4 L906.2 873.2 L907.6 876.6 L909.0 878.0 L910.3 874.3 L911.7 870.6 L913.0 867.0 L914.7 867.8 L916.3 868.0 L918.0 869.0 L919.5 870.0 L921.0 871.3 L922.5 873.2 L924.0 875.0 L925.5 873.2 L927.0 872.4 L928.5 870.6 L930.0 869.0 L931.3 870.7 L932.7 870.7 L934.0 872.0 L935.5 871.7 L937.0 870.1 L938.5 868.3 L940.0 868.0 L941.3 868.0 L942.7 869.1 L944.0 870.3 L945.3 869.8 L946.7 870.9 L948.0 871.0 L949.5 868.9 L951.0 867.0 L952.3 869.3 L953.7 869.6 L955.0 872.0 L956.3 878.0 L957.7 884.6 L959.0 890.0 L960.5 888.6 L962.0 888.0 L963.7 880.9 L965.3 873.9 L967.0 868.0 L968.7 868.8 L970.3 870.3 L972.0 872.0 L973.3 874.3 L974.7 875.5 L976.0 878.0 L977.5 882.8 L979.0 887.5 L980.5 893.2 L982.0 898.0 L983.7 892.6 L985.3 886.2 L987.0 880.0 L988.5 876.8 L990.0 874.9 L991.5 872.5 L993.0 869.0 L994.3 869.8 L995.7 869.7 L997.0 871.0 L998.5 869.5 L1000.0 867.0 L1001.3 868.9 L1002.7 869.4 L1004.0 871.0 L1005.7 869.4 L1007.3 868.5 L1009.0 868.0 L1010.4 868.3 L1011.8 869.0 L1013.2 868.8 L1014.6 869.5 L1016.0 869.0 L1017.4 869.3 L1018.8 870.3 L1020.2 871.8 L1021.6 872.4 L1023.0 873.0 L1024.7 871.2 L1026.3 870.0 L1028.0 868.0 L1040.0 868.0 L1041.5 868.6 L1043.0 869.0 L1044.5 870.4 L1046.0 870.6 L1047.5 872.4 L1049.0 873.0 L1050.5 870.2 L1052.0 868.0 L1053.3 868.3 L1054.7 868.8 L1056.0 868.6 L1057.3 869.3 L1058.7 868.9 L1060.0 870.0 L1061.5 870.2 L1063.0 869.1 L1064.5 869.3 L1066.0 868.0 L1067.3 867.2 L1068.6 868.1 L1069.9 868.2 L1071.2 867.5 L1072.5 867.1 L1073.8 867.1 L1075.1 867.1 L1076.4 868.0 L1077.7 866.9 L1079.0 868.0 L1080.3 867.3 L1081.6 867.5 L1082.9 867.5 L1084.2 867.4 L1085.5 867.5 L1086.8 867.4 L1088.1 866.9 L1089.4 867.5 L1090.7 866.7 L1092.0 867.0 L1093.5 881.8 L1095.0 896.0 L1096.5 891.4 L1098.0 886.0 L1099.3 890.1 L1100.7 893.0 L1102.0 897.0 L1103.5 894.4 L1105.0 891.0 L1106.5 890.0 L1108.0 887.4 L1109.5 885.4 L1111.0 884.0 L1112.5 881.0 L1114.0 878.0 L1116.0 884.0 L1117.3 880.7 L1118.7 875.4 L1120.0 872.0 L1121.7 869.9 L1123.3 869.3 L1125.0 868.0 L1126.7 869.6 L1128.3 871.1 L1130.0 872.0 L1131.7 881.1 L1133.3 891.4 L1135.0 900.0 L1136.5 897.6 L1138.0 896.0 L1139.7 907.4 L1141.3 917.3 L1143.0 929.0 L1144.7 917.9 L1146.3 907.7 L1148.0 898.0 L1149.7 892.0 L1151.3 887.3 L1153.0 882.0 L1154.4 879.3 L1155.8 875.9 L1157.2 874.3 L1158.6 870.6 L1160.0 868.0 L1161.5 871.4 L1163.0 875.5 L1164.5 880.4 L1166.0 884.0 L1167.3 880.7 L1168.7 875.5 L1170.0 872.0 L1171.3 871.6 L1172.7 873.1 L1174.0 873.0 L1175.3 876.3 L1176.7 881.1 L1178.0 884.0 L1179.3 879.3 L1180.7 874.9 L1182.0 870.0 L1183.3 873.1 L1184.7 877.1 L1186.0 880.0 L1187.3 875.9 L1188.7 871.7 L1190.0 868.0 L1200.0 868.0 L1201.7 866.6 L1203.3 863.4 L1205.0 862.0 L1207.0 888.0 L1209.0 938.0 L1211.4 985.0 L1214.0 942.0 L1215.5 935.4 L1217.0 928.0 L1218.5 924.3 L1220.0 922.0 L1221.3 912.2 L1222.7 901.8 L1224.0 892.0 L1225.3 891.2 L1226.7 888.6 L1228.0 888.0 L1229.5 883.1 L1231.0 877.9 L1232.5 873.7 L1234.0 868.0 L1236.0 870.0 L1237.3 880.7 L1238.7 890.2 L1240.0 900.0 L1241.7 896.9 L1243.3 894.3 L1245.0 892.0 L1246.3 885.0 L1247.7 878.6 L1249.0 872.0 L1250.5 871.1 L1252.0 870.5 L1253.5 870.9 L1255.0 870.2 L1256.5 869.2 L1258.0 869.0 L1259.5 871.0 L1261.0 871.0 L1262.5 872.9 L1264.0 874.0 L1265.5 872.0 L1267.0 871.6 L1268.5 870.1 L1270.0 868.0 L1271.3 869.6 L1272.7 872.4 L1274.0 874.0 L1275.7 872.8 L1277.3 870.3 L1279.0 869.0 L1280.4 868.6 L1281.8 868.7 L1283.1 869.3 L1284.5 868.0 L1285.9 868.7 L1287.2 868.4 L1288.6 868.0 L1290.0 868.0 L1291.5 874.6 L1293.0 881.6 L1294.5 887.0 L1296.0 894.0 L1297.7 885.9 L1299.3 876.4 L1301.0 868.0 L1302.7 869.1 L1304.3 869.9 L1306.0 870.0 L1307.3 867.5 L1308.7 866.6 L1310.0 864.0 L1311.5 885.8 L1313.0 906.0 L1314.3 905.0 L1315.7 903.9 L1317.0 904.0 L1318.3 912.7 L1319.7 923.4 L1321.0 932.0 L1322.5 907.2 L1324.0 884.0 L1325.3 895.3 L1326.7 904.8 L1328.0 916.0 L1329.5 935.4 L1331.0 954.0 L1333.0 952.0 L1334.5 975.4 L1336.0 1000.0 L1337.3 992.1 L1338.7 985.6 L1340.0 978.0 L1341.5 963.3 L1343.0 949.7 L1344.5 936.7 L1346.0 922.0 L1348.0 958.0 L1349.5 981.3 L1351.0 1004.0 L1352.3 1002.6 L1353.7 1000.8 L1355.0 998.0 L1356.7 981.9 L1358.3 966.9 L1360.0 952.0 L1361.7 962.5 L1363.3 972.3 L1365.0 982.0 L1366.5 971.3 L1368.0 962.0 L1369.5 951.6 L1371.0 942.0 L1372.5 948.1 L1374.0 953.9 L1375.5 960.0 L1377.0 967.0 L1378.7 958.1 L1380.3 947.4 L1382.0 938.0 L1383.3 937.9 L1384.7 936.1 L1386.0 936.0 L1387.3 929.3 L1388.7 922.1 L1390.0 916.0 L1391.4 909.5 L1392.8 902.7 L1394.2 897.1 L1395.6 889.8 L1397.0 884.0 L1398.7 889.0 L1400.3 893.3 L1402.0 898.0 L1403.3 898.0 L1404.7 899.1 L1406.0 900.0 L1407.3 910.0 L1408.7 920.7 L1410.0 930.0 L1411.7 918.4 L1413.3 906.9 L1415.0 896.0 L1416.3 888.7 L1417.7 880.6 L1419.0 872.0 L1420.7 871.0 L1422.3 869.0 L1424.0 868.0 L1425.4 867.6 L1426.9 867.9 L1428.3 867.7 L1429.7 867.8 L1431.1 868.7 L1432.6 868.7 L1434.0 869.0 L1435.3 878.8 L1436.7 888.1 L1438.0 898.0 L1439.3 889.2 L1440.7 882.3 L1442.0 874.0 L1443.3 872.2 L1444.7 870.1 L1446.0 868.0 L1447.7 868.7 L1449.3 869.6 L1451.0 870.0 L1452.3 885.4 L1453.7 899.9 L1455.0 914.0 L1456.5 890.3 L1458.0 866.0 L1459.3 871.2 L1460.7 876.4 L1462.0 882.0 L1463.3 877.5 L1464.7 874.1 L1466.0 869.0 L1467.3 870.5 L1468.7 872.1 L1470.0 874.0 L1471.5 872.9 L1473.0 871.4 L1474.5 871.8 L1476.0 870.0 L1477.3 875.2 L1478.7 882.2 L1480.0 888.0 L1481.3 882.0 L1482.7 874.3 L1484.0 868.0 L1485.3 884.8 L1486.7 901.1 L1488.0 918.0 L1489.5 935.6 L1491.0 954.0 L1492.5 961.5 L1494.0 970.0 L1495.5 946.4 L1497.0 924.0 L1498.5 908.5 L1500.0 892.0 L1501.5 887.0 L1503.0 881.7 L1504.5 874.8 L1506.0 870.0 L1507.3 869.0 L1508.7 867.1 L1510.0 866.0 L1511.3 868.2 L1512.7 870.1 L1514.0 872.0 L1515.7 870.4 L1517.3 870.1 L1519.0 868.0 L1520.7 869.2 L1522.3 872.4 L1524.0 874.0 L1525.5 885.1 L1527.0 895.0 L1528.5 884.0 L1530.0 873.0 L1531.5 875.6 L1533.0 878.0 L1545.0 878.0" fill="none" stroke="#ffb340" stroke-width="4.1" stroke-linejoin="round" stroke-linecap="butt"/>
<g stroke="#d2d2d2" stroke-opacity="0.8" stroke-width="1.7">
<line x1="142.6" y1="5.5" x2="142.6" y2="858.3"/>
<line x1="199.2" y1="5.5" x2="199.2" y2="858.3"/>
<line x1="254.0" y1="5.5" x2="254.0" y2="858.3"/>
<line x1="310.6" y1="5.5" x2="310.6" y2="858.3"/>
<line x1="365.6" y1="5.5" x2="365.6" y2="858.3"/>
<line x1="422.0" y1="5.5" x2="422.0" y2="858.3"/>
<line x1="476.4" y1="5.5" x2="476.4" y2="858.3"/>
<line x1="532.6" y1="5.5" x2="532.6" y2="858.3"/>
<line x1="588.0" y1="5.5" x2="588.0" y2="858.3"/>
<line x1="644.0" y1="5.5" x2="644.0" y2="858.3"/>
<line x1="699.4" y1="5.5" x2="699.4" y2="858.3"/>
<line x1="755.6" y1="5.5" x2="755.6" y2="858.3"/>
<line x1="810.8" y1="5.5" x2="810.8" y2="858.3"/>
<line x1="866.6" y1="5.5" x2="866.6" y2="858.3"/>
<line x1="921.6" y1="5.5" x2="921.6" y2="858.3"/>
<line x1="976.6" y1="5.5" x2="976.6" y2="858.3"/>
<line x1="1033.0" y1="5.5" x2="1033.0" y2="858.3"/>
<line x1="1089.0" y1="5.5" x2="1089.0" y2="858.3"/>
<line x1="1144.4" y1="5.5" x2="1144.4" y2="858.3"/>
<line x1="1199.4" y1="5.5" x2="1199.4" y2="858.3"/>
<line x1="1255.6" y1="5.5" x2="1255.6" y2="858.3"/>
<line x1="1310.6" y1="5.5" x2="1310.6" y2="858.3"/>
<line x1="1366.6" y1="5.5" x2="1366.6" y2="858.3"/>
<line x1="1421.6" y1="5.5" x2="1421.6" y2="858.3"/>
<line x1="1478.0" y1="5.5" x2="1478.0" y2="858.3"/>
<line x1="1533.0" y1="5.5" x2="1533.0" y2="858.3"/>
</g>
<g stroke="#cfcfcf" stroke-width="1.4" fill="none">
<line x1="87.5" y1="5.5" x2="87.5" y2="858.3"/>
<line x1="83.0" y1="858.3" x2="1533.3" y2="858.3"/>
<line x1="87.5" y1="865.9" x2="87.5" y2="1010.9"/>
<line x1="83.0" y1="1010.9" x2="1533.3" y2="1010.9"/>
<line x1="82.5" y1="785.9" x2="87.0" y2="785.9"/>
<line x1="82.5" y1="750.6" x2="87.0" y2="750.6"/>
<line x1="82.5" y1="715.4" x2="87.0" y2="715.4"/>
<line x1="82.5" y1="680.2" x2="87.0" y2="680.2"/>
<line x1="82.5" y1="645.0" x2="87.0" y2="645.0"/>
<line x1="82.5" y1="609.7" x2="87.0" y2="609.7"/>
<line x1="82.5" y1="574.5" x2="87.0" y2="574.5"/>
<line x1="82.5" y1="539.3" x2="87.0" y2="539.3"/>
<line x1="82.5" y1="504.0" x2="87.0" y2="504.0"/>
<line x1="82.5" y1="468.8" x2="87.0" y2="468.8"/>
<line x1="82.5" y1="433.6" x2="87.0" y2="433.6"/>
<line x1="82.5" y1="398.4" x2="87.0" y2="398.4"/>
<line x1="82.5" y1="363.1" x2="87.0" y2="363.1"/>
<line x1="82.5" y1="327.9" x2="87.0" y2="327.9"/>
<line x1="82.5" y1="292.7" x2="87.0" y2="292.7"/>
<line x1="82.5" y1="257.5" x2="87.0" y2="257.5"/>
<line x1="82.5" y1="222.2" x2="87.0" y2="222.2"/>
<line x1="82.5" y1="187.0" x2="87.0" y2="187.0"/>
<line x1="82.5" y1="151.8" x2="87.0" y2="151.8"/>
<line x1="82.5" y1="116.5" x2="87.0" y2="116.5"/>
<line x1="82.5" y1="81.3" x2="87.0" y2="81.3"/>
<line x1="82.5" y1="46.1" x2="87.0" y2="46.1"/>
<line x1="87.7" y1="858.3" x2="87.7" y2="862.5"/>
<line x1="142.6" y1="858.3" x2="142.6" y2="862.5"/>
<line x1="199.2" y1="858.3" x2="199.2" y2="862.5"/>
<line x1="254.0" y1="858.3" x2="254.0" y2="862.5"/>
<line x1="310.6" y1="858.3" x2="310.6" y2="862.5"/>
<line x1="365.6" y1="858.3" x2="365.6" y2="862.5"/>
<line x1="422.0" y1="858.3" x2="422.0" y2="862.5"/>
<line x1="476.4" y1="858.3" x2="476.4" y2="862.5"/>
<line x1="532.6" y1="858.3" x2="532.6" y2="862.5"/>
<line x1="588.0" y1="858.3" x2="588.0" y2="862.5"/>
<line x1="644.0" y1="858.3" x2="644.0" y2="862.5"/>
<line x1="699.4" y1="858.3" x2="699.4" y2="862.5"/>
<line x1="755.6" y1="858.3" x2="755.6" y2="862.5"/>
<line x1="810.8" y1="858.3" x2="810.8" y2="862.5"/>
<line x1="866.6" y1="858.3" x2="866.6" y2="862.5"/>
<line x1="921.6" y1="858.3" x2="921.6" y2="862.5"/>
<line x1="976.6" y1="858.3" x2="976.6" y2="862.5"/>
<line x1="1033.0" y1="858.3" x2="1033.0" y2="862.5"/>
<line x1="1089.0" y1="858.3" x2="1089.0" y2="862.5"/>
<line x1="1144.4" y1="858.3" x2="1144.4" y2="862.5"/>
<line x1="1199.4" y1="858.3" x2="1199.4" y2="862.5"/>
<line x1="1255.6" y1="858.3" x2="1255.6" y2="862.5"/>
<line x1="1310.6" y1="858.3" x2="1310.6" y2="862.5"/>
<line x1="1366.6" y1="858.3" x2="1366.6" y2="862.5"/>
<line x1="1421.6" y1="858.3" x2="1421.6" y2="862.5"/>
<line x1="1478.0" y1="858.3" x2="1478.0" y2="862.5"/>
<line x1="87.7" y1="1010.9" x2="87.7" y2="1014.3"/>
<line x1="142.6" y1="1010.9" x2="142.6" y2="1014.3"/>
<line x1="199.2" y1="1010.9" x2="199.2" y2="1014.3"/>
<line x1="254.0" y1="1010.9" x2="254.0" y2="1014.3"/>
<line x1="310.6" y1="1010.9" x2="310.6" y2="1014.3"/>
<line x1="365.6" y1="1010.9" x2="365.6" y2="1014.3"/>
<line x1="422.0" y1="1010.9" x2="422.0" y2="1014.3"/>
<line x1="476.4" y1="1010.9" x2="476.4" y2="1014.3"/>
<line x1="532.6" y1="1010.9" x2="532.6" y2="1014.3"/>
<line x1="588.0" y1="1010.9" x2="588.0" y2="1014.3"/>
<line x1="644.0" y1="1010.9" x2="644.0" y2="1014.3"/>
<line x1="699.4" y1="1010.9" x2="699.4" y2="1014.3"/>
<line x1="755.6" y1="1010.9" x2="755.6" y2="1014.3"/>
<line x1="810.8" y1="1010.9" x2="810.8" y2="1014.3"/>
<line x1="866.6" y1="1010.9" x2="866.6" y2="1014.3"/>
<line x1="921.6" y1="1010.9" x2="921.6" y2="1014.3"/>
<line x1="976.6" y1="1010.9" x2="976.6" y2="1014.3"/>
<line x1="1033.0" y1="1010.9" x2="1033.0" y2="1014.3"/>
<line x1="1089.0" y1="1010.9" x2="1089.0" y2="1014.3"/>
<line x1="1144.4" y1="1010.9" x2="1144.4" y2="1014.3"/>
<line x1="1199.4" y1="1010.9" x2="1199.4" y2="1014.3"/>
<line x1="1255.6" y1="1010.9" x2="1255.6" y2="1014.3"/>
<line x1="1310.6" y1="1010.9" x2="1310.6" y2="1014.3"/>
<line x1="1366.6" y1="1010.9" x2="1366.6" y2="1014.3"/>
<line x1="1421.6" y1="1010.9" x2="1421.6" y2="1014.3"/>
<line x1="1478.0" y1="1010.9" x2="1478.0" y2="1014.3"/>
<line x1="82.5" y1="867.9" x2="87.0" y2="867.9"/>
<line x1="82.5" y1="920.0" x2="87.0" y2="920.0"/>
<line x1="82.5" y1="971.8" x2="87.0" y2="971.8"/>
</g>
<text transform="translate(81.5,791.4) scale(0.2350,0.2500)" font-size="68.0" text-anchor="end" fill="#cfcfcf" stroke="#cfcfcf" stroke-width="2.88">2,000</text>
<text transform="translate(81.5,756.1) scale(0.2350,0.2500)" font-size="68.0" text-anchor="end" fill="#cfcfcf" stroke="#cfcfcf" stroke-width="2.88">4,000</text>
<text transform="translate(81.5,720.9) scale(0.2350,0.2500)" font-size="68.0" text-anchor="end" fill="#cfcfcf" stroke="#cfcfcf" stroke-width="2.88">6,000</text>
<text transform="translate(81.5,685.7) scale(0.2350,0.2500)" font-size="68.0" text-anchor="end" fill="#cfcfcf" stroke="#cfcfcf" stroke-width="2.88">8,000</text>
<text transform="translate(81.5,650.5) scale(0.2350,0.2500)" font-size="68.0" text-anchor="end" fill="#cfcfcf" stroke="#cfcfcf" stroke-width="2.88">10,000</text>
<text transform="translate(81.5,615.2) scale(0.2350,0.2500)" font-size="68.0" text-anchor="end" fill="#cfcfcf" stroke="#cfcfcf" stroke-width="2.88">12,000</text>
<text transform="translate(81.5,580.0) scale(0.2350,0.2500)" font-size="68.0" text-anchor="end" fill="#cfcfcf" stroke="#cfcfcf" stroke-width="2.88">14,000</text>
<text transform="translate(81.5,544.8) scale(0.2350,0.2500)" font-size="68.0" text-anchor="end" fill="#cfcfcf" stroke="#cfcfcf" stroke-width="2.88">16,000</text>
<text transform="translate(81.5,509.5) scale(0.2350,0.2500)" font-size="68.0" text-anchor="end" fill="#cfcfcf" stroke="#cfcfcf" stroke-width="2.88">18,000</text>
<text transform="translate(81.5,474.3) scale(0.2350,0.2500)" font-size="68.0" text-anchor="end" fill="#cfcfcf" stroke="#cfcfcf" stroke-width="2.88">20,000</text>
<text transform="translate(81.5,439.1) scale(0.2350,0.2500)" font-size="68.0" text-anchor="end" fill="#cfcfcf" stroke="#cfcfcf" stroke-width="2.88">22,000</text>
<text transform="translate(81.5,403.9) scale(0.2350,0.2500)" font-size="68.0" text-anchor="end" fill="#cfcfcf" stroke="#cfcfcf" stroke-width="2.88">24,000</text>
<text transform="translate(81.5,368.6) scale(0.2350,0.2500)" font-size="68.0" text-anchor="end" fill="#cfcfcf" stroke="#cfcfcf" stroke-width="2.88">26,000</text>
<text transform="translate(81.5,333.4) scale(0.2350,0.2500)" font-size="68.0" text-anchor="end" fill="#cfcfcf" stroke="#cfcfcf" stroke-width="2.88">28,000</text>
<text transform="translate(81.5,298.2) scale(0.2350,0.2500)" font-size="68.0" text-anchor="end" fill="#cfcfcf" stroke="#cfcfcf" stroke-width="2.88">30,000</text>
<text transform="translate(81.5,263.0) scale(0.2350,0.2500)" font-size="68.0" text-anchor="end" fill="#cfcfcf" stroke="#cfcfcf" stroke-width="2.88">32,000</text>
<text transform="translate(81.5,227.7) scale(0.2350,0.2500)" font-size="68.0" text-anchor="end" fill="#cfcfcf" stroke="#cfcfcf" stroke-width="2.88">34,000</text>
<text transform="translate(81.5,192.5) scale(0.2350,0.2500)" font-size="68.0" text-anchor="end" fill="#cfcfcf" stroke="#cfcfcf" stroke-width="2.88">36,000</text>
<text transform="translate(81.5,157.3) scale(0.2350,0.2500)" font-size="68.0" text-anchor="end" fill="#cfcfcf" stroke="#cfcfcf" stroke-width="2.88">38,000</text>
<text transform="translate(81.5,122.0) scale(0.2350,0.2500)" font-size="68.0" text-anchor="end" fill="#cfcfcf" stroke="#cfcfcf" stroke-width="2.88">40,000</text>
<text transform="translate(81.5,86.8) scale(0.2350,0.2500)" font-size="68.0" text-anchor="end" fill="#cfcfcf" stroke="#cfcfcf" stroke-width="2.88">42,000</text>
<text transform="translate(81.5,51.6) scale(0.2350,0.2500)" font-size="68.0" text-anchor="end" fill="#cfcfcf" stroke="#cfcfcf" stroke-width="2.88">44,000</text>
<text transform="translate(81.5,852.1) scale(0.2350,0.2500)" font-size="68.0" text-anchor="end" fill="#cfcfcf" stroke="#cfcfcf" stroke-width="2.88">-2,000</text>
<text transform="translate(81.5,875.1) scale(0.2050,0.2500)" font-size="74.4" text-anchor="end" fill="#cfcfcf" stroke="#cfcfcf" stroke-width="2.88">0</text>
<text transform="translate(81.5,925.4) scale(0.2050,0.2500)" font-size="74.4" text-anchor="end" fill="#cfcfcf" stroke="#cfcfcf" stroke-width="2.88">-1</text>
<text transform="translate(81.5,978.9) scale(0.2050,0.2500)" font-size="74.4" text-anchor="end" fill="#cfcfcf" stroke="#cfcfcf" stroke-width="2.88">-2</text>
<text transform="translate(81.5,1004.8) scale(0.2050,0.2500)" font-size="74.4" text-anchor="end" fill="#cfcfcf" stroke="#cfcfcf" stroke-width="2.88">-3</text>
<text transform="translate(113.1,847.2) scale(0.2150,0.2500)" font-size="68.4" text-anchor="middle" fill="#cfcfcf" stroke="#cfcfcf" stroke-width="2.88">2000</text>
<text transform="translate(169.0,847.2) scale(0.2150,0.2500)" font-size="68.4" text-anchor="middle" fill="#cfcfcf" stroke="#cfcfcf" stroke-width="2.88">2001</text>
<text transform="translate(224.7,847.2) scale(0.2150,0.2500)" font-size="68.4" text-anchor="middle" fill="#cfcfcf" stroke="#cfcfcf" stroke-width="2.88">2002</text>
<text transform="translate(280.4,847.2) scale(0.2150,0.2500)" font-size="68.4" text-anchor="middle" fill="#cfcfcf" stroke="#cfcfcf" stroke-width="2.88">2003</text>
<text transform="translate(336.2,847.2) scale(0.2150,0.2500)" font-size="68.4" text-anchor="middle" fill="#cfcfcf" stroke="#cfcfcf" stroke-width="2.88">2004</text>
<text transform="translate(391.9,847.2) scale(0.2150,0.2500)" font-size="68.4" text-anchor="middle" fill="#cfcfcf" stroke="#cfcfcf" stroke-width="2.88">2005</text>
<text transform="translate(447.3,847.2) scale(0.2150,0.2500)" font-size="68.4" text-anchor="middle" fill="#cfcfcf" stroke="#cfcfcf" stroke-width="2.88">2006</text>
<text transform="translate(502.6,847.2) scale(0.2150,0.2500)" font-size="68.4" text-anchor="middle" fill="#cfcfcf" stroke="#cfcfcf" stroke-width="2.88">2007</text>
<text transform="translate(558.4,847.2) scale(0.2150,0.2500)" font-size="68.4" text-anchor="middle" fill="#cfcfcf" stroke="#cfcfcf" stroke-width="2.88">2008</text>
<text transform="translate(614.1,847.2) scale(0.2150,0.2500)" font-size="68.4" text-anchor="middle" fill="#cfcfcf" stroke="#cfcfcf" stroke-width="2.88">2009</text>
<text transform="translate(669.8,847.2) scale(0.2150,0.2500)" font-size="68.4" text-anchor="middle" fill="#cfcfcf" stroke="#cfcfcf" stroke-width="2.88">2010</text>
<text transform="translate(725.6,847.2) scale(0.2150,0.2500)" font-size="68.4" text-anchor="middle" fill="#cfcfcf" stroke="#cfcfcf" stroke-width="2.88">2011</text>
<text transform="translate(781.3,847.2) scale(0.2150,0.2500)" font-size="68.4" text-anchor="middle" fill="#cfcfcf" stroke="#cfcfcf" stroke-width="2.88">2012</text>
<text transform="translate(836.8,847.2) scale(0.2150,0.2500)" font-size="68.4" text-anchor="middle" fill="#cfcfcf" stroke="#cfcfcf" stroke-width="2.88">2013</text>
<text transform="translate(892.2,847.2) scale(0.2150,0.2500)" font-size="68.4" text-anchor="middle" fill="#cfcfcf" stroke="#cfcfcf" stroke-width="2.88">2014</text>
<text transform="translate(947.2,847.2) scale(0.2150,0.2500)" font-size="68.4" text-anchor="middle" fill="#cfcfcf" stroke="#cfcfcf" stroke-width="2.88">2015</text>
<text transform="translate(1002.9,847.2) scale(0.2150,0.2500)" font-size="68.4" text-anchor="middle" fill="#cfcfcf" stroke="#cfcfcf" stroke-width="2.88">2016</text>
<text transform="translate(1059.1,847.2) scale(0.2150,0.2500)" font-size="68.4" text-anchor="middle" fill="#cfcfcf" stroke="#cfcfcf" stroke-width="2.88">2017</text>
<text transform="translate(1114.8,847.2) scale(0.2150,0.2500)" font-size="68.4" text-anchor="middle" fill="#cfcfcf" stroke="#cfcfcf" stroke-width="2.88">2018</text>
<text transform="translate(1170.0,847.2) scale(0.2150,0.2500)" font-size="68.4" text-anchor="middle" fill="#cfcfcf" stroke="#cfcfcf" stroke-width="2.88">2019</text>
<text transform="translate(1225.6,847.2) scale(0.2150,0.2500)" font-size="68.4" text-anchor="middle" fill="#cfcfcf" stroke="#cfcfcf" stroke-width="2.88">2020</text>
<text transform="translate(1281.2,847.2) scale(0.2150,0.2500)" font-size="68.4" text-anchor="middle" fill="#cfcfcf" stroke="#cfcfcf" stroke-width="2.88">2021</text>
<text transform="translate(1336.7,847.2) scale(0.2150,0.2500)" font-size="68.4" text-anchor="middle" fill="#cfcfcf" stroke="#cfcfcf" stroke-width="2.88">2022</text>
<text transform="translate(1392.2,847.2) scale(0.2150,0.2500)" font-size="68.4" text-anchor="middle" fill="#cfcfcf" stroke="#cfcfcf" stroke-width="2.88">2023</text>
<text transform="translate(1447.9,847.2) scale(0.2150,0.2500)" font-size="68.4" text-anchor="middle" fill="#cfcfcf" stroke="#cfcfcf" stroke-width="2.88">2024</text>
<text transform="translate(1503.6,847.2) scale(0.2150,0.2500)" font-size="68.4" text-anchor="middle" fill="#cfcfcf" stroke="#cfcfcf" stroke-width="2.88">2025</text>
<text transform="translate(86.9,1026.3) scale(0.2268,0.2500)" font-size="70.0" text-anchor="middle" fill="#cfcfcf" stroke="#cfcfcf" stroke-width="2.88">2000</text>
<text transform="translate(142.0,1026.3) scale(0.2268,0.2500)" font-size="70.0" text-anchor="middle" fill="#cfcfcf" stroke="#cfcfcf" stroke-width="2.88">2001</text>
<text transform="translate(198.6,1026.3) scale(0.2268,0.2500)" font-size="70.0" text-anchor="middle" fill="#cfcfcf" stroke="#cfcfcf" stroke-width="2.88">2002</text>
<text transform="translate(253.4,1026.3) scale(0.2268,0.2500)" font-size="70.0" text-anchor="middle" fill="#cfcfcf" stroke="#cfcfcf" stroke-width="2.88">2003</text>
<text transform="translate(310.0,1026.3) scale(0.2268,0.2500)" font-size="70.0" text-anchor="middle" fill="#cfcfcf" stroke="#cfcfcf" stroke-width="2.88">2004</text>
<text transform="translate(365.0,1026.3) scale(0.2268,0.2500)" font-size="70.0" text-anchor="middle" fill="#cfcfcf" stroke="#cfcfcf" stroke-width="2.88">2005</text>
<text transform="translate(421.4,1026.3) scale(0.2268,0.2500)" font-size="70.0" text-anchor="middle" fill="#cfcfcf" stroke="#cfcfcf" stroke-width="2.88">2006</text>
<text transform="translate(475.8,1026.3) scale(0.2268,0.2500)" font-size="70.0" text-anchor="middle" fill="#cfcfcf" stroke="#cfcfcf" stroke-width="2.88">2007</text>
<text transform="translate(532.0,1026.3) scale(0.2268,0.2500)" font-size="70.0" text-anchor="middle" fill="#cfcfcf" stroke="#cfcfcf" stroke-width="2.88">2008</text>
<text transform="translate(587.4,1026.3) scale(0.2268,0.2500)" font-size="70.0" text-anchor="middle" fill="#cfcfcf" stroke="#cfcfcf" stroke-width="2.88">2009</text>
<text transform="translate(643.4,1026.3) scale(0.2268,0.2500)" font-size="70.0" text-anchor="middle" fill="#cfcfcf" stroke="#cfcfcf" stroke-width="2.88">2010</text>
<text transform="translate(698.8,1026.3) scale(0.2268,0.2500)" font-size="70.0" text-anchor="middle" fill="#cfcfcf" stroke="#cfcfcf" stroke-width="2.88">2011</text>
<text transform="translate(755.0,1026.3) scale(0.2268,0.2500)" font-size="70.0" text-anchor="middle" fill="#cfcfcf" stroke="#cfcfcf" stroke-width="2.88">2012</text>
<text transform="translate(810.2,1026.3) scale(0.2268,0.2500)" font-size="70.0" text-anchor="middle" fill="#cfcfcf" stroke="#cfcfcf" stroke-width="2.88">2013</text>
<text transform="translate(866.0,1026.3) scale(0.2268,0.2500)" font-size="70.0" text-anchor="middle" fill="#cfcfcf" stroke="#cfcfcf" stroke-width="2.88">2014</text>
<text transform="translate(921.0,1026.3) scale(0.2268,0.2500)" font-size="70.0" text-anchor="middle" fill="#cfcfcf" stroke="#cfcfcf" stroke-width="2.88">2015</text>
<text transform="translate(976.0,1026.3) scale(0.2268,0.2500)" font-size="70.0" text-anchor="middle" fill="#cfcfcf" stroke="#cfcfcf" stroke-width="2.88">2016</text>
<text transform="translate(1032.4,1026.3) scale(0.2268,0.2500)" font-size="70.0" text-anchor="middle" fill="#cfcfcf" stroke="#cfcfcf" stroke-width="2.88">2017</text>
<text transform="translate(1088.4,1026.3) scale(0.2268,0.2500)" font-size="70.0" text-anchor="middle" fill="#cfcfcf" stroke="#cfcfcf" stroke-width="2.88">2018</text>
<text transform="translate(1143.8,1026.3) scale(0.2268,0.2500)" font-size="70.0" text-anchor="middle" fill="#cfcfcf" stroke="#cfcfcf" stroke-width="2.88">2019</text>
<text transform="translate(1198.8,1026.3) scale(0.2268,0.2500)" font-size="70.0" text-anchor="middle" fill="#cfcfcf" stroke="#cfcfcf" stroke-width="2.88">2020</text>
<text transform="translate(1255.0,1026.3) scale(0.2268,0.2500)" font-size="70.0" text-anchor="middle" fill="#cfcfcf" stroke="#cfcfcf" stroke-width="2.88">2021</text>
<text transform="translate(1310.0,1026.3) scale(0.2268,0.2500)" font-size="70.0" text-anchor="middle" fill="#cfcfcf" stroke="#cfcfcf" stroke-width="2.88">2022</text>
<text transform="translate(1366.0,1026.3) scale(0.2268,0.2500)" font-size="70.0" text-anchor="middle" fill="#cfcfcf" stroke="#cfcfcf" stroke-width="2.88">2023</text>
<text transform="translate(1421.0,1026.3) scale(0.2268,0.2500)" font-size="70.0" text-anchor="middle" fill="#cfcfcf" stroke="#cfcfcf" stroke-width="2.88">2024</text>
<text transform="translate(1477.4,1026.3) scale(0.2268,0.2500)" font-size="70.0" text-anchor="middle" fill="#cfcfcf" stroke="#cfcfcf" stroke-width="2.88">2025</text>
<text transform="translate(95.3,28.0) scale(0.2500,0.2500)" font-size="84.0" text-anchor="start" fill="#dcdcdc" stroke="#dcdcdc" stroke-width="1.60">Portfolio</text>
<text transform="translate(90.0,891.4) scale(0.2175,0.2500)" font-size="75.2" text-anchor="start" fill="#cfcfcf" stroke="#cfcfcf" stroke-width="2.88">Drawdown (%)</text>
<text transform="translate(27.4,432.8) rotate(-90) scale(1,1.2)" font-size="15.5" text-anchor="middle" fill="#cfcfcf" stroke="#cfcfcf" stroke-width="0.7">Equity ($)</text>
<rect x="617.2" y="1044.2" width="399.2" height="36.1" fill="#3b3b3b" stroke="#9c9c9c" stroke-width="2.5"/>
<rect x="623.2" y="1050" width="25" height="22.7" fill="#3366cc"/>
<rect x="734.4" y="1050" width="25" height="22.7" fill="#900043"/>
<rect x="872" y="1050" width="25" height="22.7" fill="#ff8c5f"/>
<text transform="translate(654.6,1066.6) scale(0.2407,0.2500)" font-size="62.0" text-anchor="start" fill="#e2e2e2" stroke="#e2e2e2" stroke-width="2.88">Portfolio</text>
<text transform="translate(765.8,1066.6) scale(0.2407,0.2500)" font-size="62.0" text-anchor="start" fill="#e2e2e2" stroke="#e2e2e2" stroke-width="2.88">MR strategy</text>
<text transform="translate(903.1,1066.6) scale(0.2407,0.2500)" font-size="62.0" text-anchor="start" fill="#e2e2e2" stroke="#e2e2e2" stroke-width="2.88">MOM strategy</text>
</svg>
<div id="p">
<div class="l" style="left:12.5px;top:11.0px;letter-spacing:0.163px;"><a>Benchmark learn more</a></div>
<div class="sq" style="left:12.5px;top:51px;background:#2680d9"></div>
<div class="l" style="left:44.0px;top:54.0px;letter-spacing:0.049px;"><b>Strategy</b></div>
<div class="l" style="left:12.5px;top:83.4px;letter-spacing:0.135px;">Money management:</div>
<div class="l" style="left:12.5px;top:104.2px;letter-spacing:-0.188px;">Risk fixed % of account: 10.00%</div>
<div class="l" style="left:12.5px;top:126.0px;letter-spacing:0.008px;">Initial capital: $100000.00</div>
<div class="sq" style="left:12.5px;top:156px;background:#ffbb60"></div>
<div class="l" style="left:44.0px;top:160.1px;letter-spacing:-0.044px;"><b>Benchmark (SPY, normalize by %</b></div>
<div class="l" style="left:12.5px;top:181.0px;letter-spacing:0.311px;"><b>drawdown)</b></div>
<div class="l" style="left:12.5px;top:210.2px;letter-spacing:0.094px;">Buy &amp; hold, initial buy amount: $2555.94</div>
<div class="l" style="left:12.5px;top:239.2px;letter-spacing:0.109px;">Normalization is simulated by decreasing</div>
<div class="l" style="left:12.5px;top:260.7px;letter-spacing:0.148px;">trading size to match maximum Drawdown %</div>
<div class="l" style="left:12.5px;top:282.2px;letter-spacing:0.249px;">for benchmark.</div>
<table class="t" style="top:310.0px"><colgroup><col style="width:157.2px"><col style="width:77.9px"><col style="width:100.4px"></colgroup><tr class="h"><th></th><th>Strategy</th><th>Benchmark</th></tr>
<tr class="o"><td>Net profit $</td><td>46236.39</td><td>16319.34</td></tr>
<tr class="e"><td>Number of trades</td><td>4655</td><td>1</td></tr>
<tr class="o"><td>Drawdown $</td><td>3744.76</td><td>3163.06</td></tr>
<tr class="e"><td>Drawdown %</td><td>2.79</td><td>2.80</td></tr>
<tr class="o"><td>Profit factor</td><td>1.45</td><td>1.13</td></tr>
<tr class="e"><td>Sharpe ratio</td><td>1.26</td><td>0.48</td></tr>
<tr class="o"><td>Ret/DD Ratio</td><td>12.35</td><td>5.16</td></tr>
<tr class="e"><td>Avg. trade</td><td>9.93</td><td>2.50</td></tr>
<tr class="o"><td class="two">CAGR (Annual % per<br>year)</td><td>1.53</td><td>0.58</td></tr>
<tr class="e"><td>CAGR/Max % DD</td><td>0.55</td><td>0.21</td></tr>
<tr class="o"><td>Exposure %</td><td>90.43</td><td>100</td></tr>
<tr class="e"><td>Correlation</td><td>0.68</td><td></td></tr>
</table>
<div class="l" style="left:17.5px;top:637.1px;letter-spacing:0.040px;">Alternative if benchmark has the same %</div>
<div class="l" style="left:17.5px;top:659.1px;letter-spacing:0.116px;">drawdown as strategy</div>
<table class="t" style="top:679.0px"><colgroup><col style="width:157.2px"><col style="width:77.9px"><col style="width:100.4px"></colgroup><tr class="h"><th></th><th>Strategy</th><th>Benchmark</th></tr>
<tr class="o"><td>Net profit $</td><td>46236.39</td><td>16319.34</td></tr>
<tr class="e"><td>Drawdown $</td><td>3744.76</td><td>3163.06</td></tr>
<tr class="o"><td>Drawdown %</td><td>2.79</td><td>2.80</td></tr>
<tr class="e"><td>Sharpe ratio</td><td>1.26</td><td>0.48</td></tr>
<tr class="o"><td class="two">CAGR (Annual % per<br>year)</td><td>1.53</td><td>0.58</td></tr>
<tr class="e"><td>CAGR/Max % DD</td><td>0.55</td><td>0.21</td></tr>
</table>
<div class="l" style="left:17.5px;top:867.2px;letter-spacing:0.200px;">Result: <svg width="14.2" height="13" viewBox="0 0 14.2 13" style="vertical-align:-0.7px;margin:0 -1.2px 0 -2.2px"><rect x="0" y="5.3" width="4.1" height="7" fill="#dcdcdc"/><circle cx="2.6" cy="10.7" r="0.6" fill="#2b2b2b"/><path d="M4.9 5.7 L6.5 4.7 L7.9 1.0 Q8.3 0 9.3 0.1 Q10.7 0.4 10.5 2.0 L10.0 4.7 L13.2 4.7 Q14.3 5.0 14.0 6.1 L13.0 11.9 Q12.7 13 11.5 13 L6.6 13 L4.9 12.3 Z" fill="#dcdcdc"/></svg> Strategy performs <b>better</b> than</div>
<div class="l" style="left:17.5px;top:888.2px;letter-spacing:0.117px;">benchmark if the same risk of capital</div>
<div class="l" style="left:17.5px;top:909.9px;letter-spacing:-0.120px;">(Drawdown %) is used.</div>
<div class="l" style="left:17.5px;top:931.0px;letter-spacing:0.135px;"><a>Learn more</a></div>
</div>
</body></html>
